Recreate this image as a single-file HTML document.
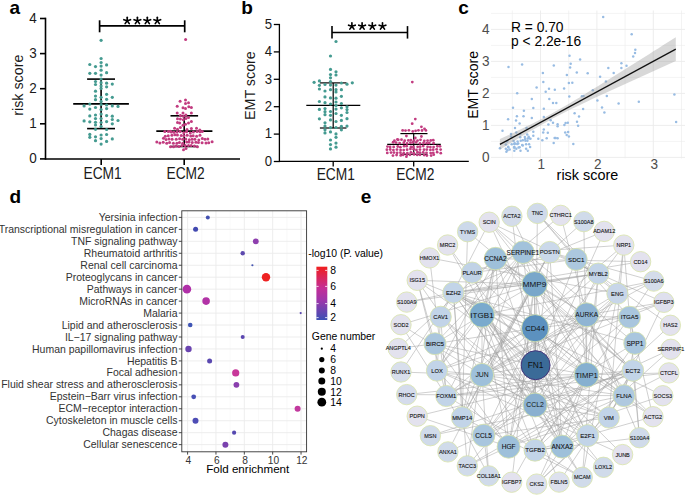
<!DOCTYPE html>
<html><head><meta charset="utf-8"><style>
html,body{margin:0;padding:0;background:#fff;}
svg{display:block;font-family:"Liberation Sans", sans-serif;}
</style></head><body>
<svg width="685" height="495" viewBox="0 0 685 495">
<rect width="685" height="495" fill="#fff"/>
<text x="9.50" y="13.60" font-size="19" text-anchor="start" fill="#000" font-weight="bold" >a</text>
<text x="241.20" y="13.60" font-size="19" text-anchor="start" fill="#000" font-weight="bold" >b</text>
<text x="458.20" y="14.00" font-size="19" text-anchor="start" fill="#000" font-weight="bold" >c</text>
<text x="9.60" y="202.80" font-size="19" text-anchor="start" fill="#000" font-weight="bold" >d</text>
<text x="360.80" y="203.40" font-size="19" text-anchor="start" fill="#000" font-weight="bold" >e</text>
<line x1="45.50" y1="17.70" x2="45.50" y2="159.80" stroke="#000" stroke-width="1.6" />
<line x1="45.50" y1="159.00" x2="240.00" y2="159.00" stroke="#000" stroke-width="1.6" />
<line x1="40.00" y1="158.90" x2="45.50" y2="158.90" stroke="#000" stroke-width="1.6" />
<text transform="translate(36.80,163.30) scale(1,1.13)" x="0" y="0" font-size="13.5" text-anchor="end" fill="#1a1a1a" font-weight="normal" >0</text>
<line x1="40.00" y1="123.80" x2="45.50" y2="123.80" stroke="#000" stroke-width="1.6" />
<text transform="translate(36.80,128.20) scale(1,1.13)" x="0" y="0" font-size="13.5" text-anchor="end" fill="#1a1a1a" font-weight="normal" >1</text>
<line x1="40.00" y1="88.70" x2="45.50" y2="88.70" stroke="#000" stroke-width="1.6" />
<text transform="translate(36.80,93.10) scale(1,1.13)" x="0" y="0" font-size="13.5" text-anchor="end" fill="#1a1a1a" font-weight="normal" >2</text>
<line x1="40.00" y1="53.60" x2="45.50" y2="53.60" stroke="#000" stroke-width="1.6" />
<text transform="translate(36.80,58.00) scale(1,1.13)" x="0" y="0" font-size="13.5" text-anchor="end" fill="#1a1a1a" font-weight="normal" >3</text>
<line x1="40.00" y1="18.50" x2="45.50" y2="18.50" stroke="#000" stroke-width="1.6" />
<text transform="translate(36.80,22.90) scale(1,1.13)" x="0" y="0" font-size="13.5" text-anchor="end" fill="#1a1a1a" font-weight="normal" >4</text>
<line x1="101.20" y1="159.00" x2="101.20" y2="165.00" stroke="#000" stroke-width="1.6" />
<text transform="translate(102.60,178.60) scale(1,1.15)" x="0" y="0" font-size="13.8" text-anchor="middle" fill="#1a1a1a" font-weight="normal" >ECM1</text>
<line x1="184.20" y1="159.00" x2="184.20" y2="165.00" stroke="#000" stroke-width="1.6" />
<text transform="translate(185.60,178.60) scale(1,1.15)" x="0" y="0" font-size="13.8" text-anchor="middle" fill="#1a1a1a" font-weight="normal" >ECM2</text>
<text transform="translate(22.7,85.2) rotate(-90) scale(1,1.06)" x="0" y="0" font-size="14.3" text-anchor="middle" fill="#1a1a1a">risk score</text>
<line x1="99.60" y1="25.90" x2="184.70" y2="25.90" stroke="#000" stroke-width="1.7" />
<line x1="99.60" y1="20.30" x2="99.60" y2="32.30" stroke="#000" stroke-width="1.7" />
<line x1="184.70" y1="20.30" x2="184.70" y2="32.30" stroke="#000" stroke-width="1.7" />
<line x1="87.10" y1="79.10" x2="115.00" y2="79.10" stroke="#000" stroke-width="1.6" />
<line x1="73.20" y1="103.90" x2="128.90" y2="103.90" stroke="#000" stroke-width="1.6" />
<line x1="87.10" y1="128.60" x2="115.00" y2="128.60" stroke="#000" stroke-width="1.6" />
<line x1="101.10" y1="79.10" x2="101.10" y2="128.60" stroke="#000" stroke-width="1.6" />
<line x1="170.50" y1="115.80" x2="198.10" y2="115.80" stroke="#000" stroke-width="1.6" />
<line x1="156.30" y1="131.10" x2="212.40" y2="131.10" stroke="#000" stroke-width="1.6" />
<line x1="170.50" y1="146.50" x2="198.10" y2="146.50" stroke="#000" stroke-width="1.6" />
<line x1="184.20" y1="115.80" x2="184.20" y2="146.50" stroke="#000" stroke-width="1.6" />
<circle cx="84.10" cy="105.90" r="1.60" fill="#459b91" stroke="none" stroke-width="0"/>
<circle cx="84.10" cy="120.90" r="1.60" fill="#459b91" stroke="none" stroke-width="0"/>
<circle cx="89.80" cy="64.50" r="1.60" fill="#459b91" stroke="none" stroke-width="0"/>
<circle cx="89.80" cy="73.30" r="1.60" fill="#459b91" stroke="none" stroke-width="0"/>
<circle cx="89.80" cy="104.10" r="1.60" fill="#459b91" stroke="none" stroke-width="0"/>
<circle cx="89.80" cy="109.10" r="1.60" fill="#459b91" stroke="none" stroke-width="0"/>
<circle cx="89.80" cy="115.90" r="1.60" fill="#459b91" stroke="none" stroke-width="0"/>
<circle cx="89.80" cy="121.80" r="1.60" fill="#459b91" stroke="none" stroke-width="0"/>
<circle cx="89.80" cy="134.40" r="1.60" fill="#459b91" stroke="none" stroke-width="0"/>
<circle cx="89.80" cy="137.30" r="1.60" fill="#459b91" stroke="none" stroke-width="0"/>
<circle cx="95.50" cy="66.60" r="1.60" fill="#459b91" stroke="none" stroke-width="0"/>
<circle cx="95.50" cy="73.30" r="1.60" fill="#459b91" stroke="none" stroke-width="0"/>
<circle cx="95.50" cy="81.50" r="1.60" fill="#459b91" stroke="none" stroke-width="0"/>
<circle cx="95.50" cy="84.50" r="1.60" fill="#459b91" stroke="none" stroke-width="0"/>
<circle cx="95.50" cy="91.20" r="1.60" fill="#459b91" stroke="none" stroke-width="0"/>
<circle cx="95.50" cy="96.10" r="1.60" fill="#459b91" stroke="none" stroke-width="0"/>
<circle cx="95.50" cy="99.70" r="1.60" fill="#459b91" stroke="none" stroke-width="0"/>
<circle cx="95.50" cy="107.50" r="1.60" fill="#459b91" stroke="none" stroke-width="0"/>
<circle cx="95.50" cy="115.00" r="1.60" fill="#459b91" stroke="none" stroke-width="0"/>
<circle cx="95.50" cy="118.60" r="1.60" fill="#459b91" stroke="none" stroke-width="0"/>
<circle cx="95.50" cy="122.30" r="1.60" fill="#459b91" stroke="none" stroke-width="0"/>
<circle cx="95.50" cy="125.00" r="1.60" fill="#459b91" stroke="none" stroke-width="0"/>
<circle cx="95.50" cy="129.30" r="1.60" fill="#459b91" stroke="none" stroke-width="0"/>
<circle cx="95.50" cy="136.80" r="1.60" fill="#459b91" stroke="none" stroke-width="0"/>
<circle cx="95.50" cy="140.70" r="1.60" fill="#459b91" stroke="none" stroke-width="0"/>
<circle cx="101.10" cy="40.30" r="1.60" fill="#459b91" stroke="none" stroke-width="0"/>
<circle cx="101.10" cy="58.50" r="1.60" fill="#459b91" stroke="none" stroke-width="0"/>
<circle cx="101.10" cy="62.50" r="1.60" fill="#459b91" stroke="none" stroke-width="0"/>
<circle cx="101.10" cy="66.10" r="1.60" fill="#459b91" stroke="none" stroke-width="0"/>
<circle cx="101.10" cy="70.20" r="1.60" fill="#459b91" stroke="none" stroke-width="0"/>
<circle cx="101.10" cy="75.10" r="1.60" fill="#459b91" stroke="none" stroke-width="0"/>
<circle cx="101.10" cy="79.00" r="1.60" fill="#459b91" stroke="none" stroke-width="0"/>
<circle cx="101.10" cy="82.70" r="1.60" fill="#459b91" stroke="none" stroke-width="0"/>
<circle cx="101.10" cy="85.90" r="1.60" fill="#459b91" stroke="none" stroke-width="0"/>
<circle cx="101.10" cy="88.50" r="1.60" fill="#459b91" stroke="none" stroke-width="0"/>
<circle cx="101.10" cy="97.30" r="1.60" fill="#459b91" stroke="none" stroke-width="0"/>
<circle cx="101.10" cy="101.40" r="1.60" fill="#459b91" stroke="none" stroke-width="0"/>
<circle cx="101.10" cy="104.50" r="1.60" fill="#459b91" stroke="none" stroke-width="0"/>
<circle cx="101.10" cy="109.50" r="1.60" fill="#459b91" stroke="none" stroke-width="0"/>
<circle cx="101.10" cy="114.10" r="1.60" fill="#459b91" stroke="none" stroke-width="0"/>
<circle cx="101.10" cy="118.60" r="1.60" fill="#459b91" stroke="none" stroke-width="0"/>
<circle cx="101.10" cy="122.50" r="1.60" fill="#459b91" stroke="none" stroke-width="0"/>
<circle cx="101.10" cy="126.40" r="1.60" fill="#459b91" stroke="none" stroke-width="0"/>
<circle cx="101.10" cy="135.00" r="1.60" fill="#459b91" stroke="none" stroke-width="0"/>
<circle cx="101.10" cy="138.60" r="1.60" fill="#459b91" stroke="none" stroke-width="0"/>
<circle cx="101.10" cy="144.10" r="1.60" fill="#459b91" stroke="none" stroke-width="0"/>
<circle cx="106.60" cy="64.90" r="1.60" fill="#459b91" stroke="none" stroke-width="0"/>
<circle cx="106.60" cy="72.70" r="1.60" fill="#459b91" stroke="none" stroke-width="0"/>
<circle cx="106.60" cy="83.20" r="1.60" fill="#459b91" stroke="none" stroke-width="0"/>
<circle cx="106.60" cy="86.80" r="1.60" fill="#459b91" stroke="none" stroke-width="0"/>
<circle cx="106.60" cy="94.30" r="1.60" fill="#459b91" stroke="none" stroke-width="0"/>
<circle cx="106.60" cy="99.30" r="1.60" fill="#459b91" stroke="none" stroke-width="0"/>
<circle cx="106.60" cy="105.00" r="1.60" fill="#459b91" stroke="none" stroke-width="0"/>
<circle cx="106.60" cy="108.60" r="1.60" fill="#459b91" stroke="none" stroke-width="0"/>
<circle cx="106.60" cy="115.60" r="1.60" fill="#459b91" stroke="none" stroke-width="0"/>
<circle cx="106.60" cy="121.60" r="1.60" fill="#459b91" stroke="none" stroke-width="0"/>
<circle cx="106.60" cy="129.50" r="1.60" fill="#459b91" stroke="none" stroke-width="0"/>
<circle cx="106.60" cy="134.50" r="1.60" fill="#459b91" stroke="none" stroke-width="0"/>
<circle cx="106.60" cy="141.40" r="1.60" fill="#459b91" stroke="none" stroke-width="0"/>
<circle cx="112.30" cy="84.10" r="1.60" fill="#459b91" stroke="none" stroke-width="0"/>
<circle cx="112.30" cy="97.30" r="1.60" fill="#459b91" stroke="none" stroke-width="0"/>
<circle cx="112.30" cy="105.90" r="1.60" fill="#459b91" stroke="none" stroke-width="0"/>
<circle cx="112.30" cy="116.20" r="1.60" fill="#459b91" stroke="none" stroke-width="0"/>
<circle cx="112.30" cy="119.50" r="1.60" fill="#459b91" stroke="none" stroke-width="0"/>
<circle cx="112.30" cy="123.80" r="1.60" fill="#459b91" stroke="none" stroke-width="0"/>
<circle cx="112.30" cy="138.90" r="1.60" fill="#459b91" stroke="none" stroke-width="0"/>
<circle cx="118.00" cy="106.40" r="1.60" fill="#459b91" stroke="none" stroke-width="0"/>
<circle cx="118.00" cy="120.50" r="1.60" fill="#459b91" stroke="none" stroke-width="0"/>
<circle cx="185.60" cy="39.40" r="1.50" fill="#c23c80" stroke="none" stroke-width="0"/>
<circle cx="180.10" cy="101.20" r="1.50" fill="#c23c80" stroke="none" stroke-width="0"/>
<circle cx="185.50" cy="100.10" r="1.50" fill="#c23c80" stroke="none" stroke-width="0"/>
<circle cx="185.50" cy="103.60" r="1.50" fill="#c23c80" stroke="none" stroke-width="0"/>
<circle cx="188.50" cy="102.70" r="1.50" fill="#c23c80" stroke="none" stroke-width="0"/>
<circle cx="177.20" cy="106.30" r="1.50" fill="#c23c80" stroke="none" stroke-width="0"/>
<circle cx="183.00" cy="107.80" r="1.50" fill="#c23c80" stroke="none" stroke-width="0"/>
<circle cx="185.50" cy="108.50" r="1.50" fill="#c23c80" stroke="none" stroke-width="0"/>
<circle cx="188.80" cy="106.70" r="1.50" fill="#c23c80" stroke="none" stroke-width="0"/>
<circle cx="191.40" cy="107.40" r="1.50" fill="#c23c80" stroke="none" stroke-width="0"/>
<circle cx="177.20" cy="112.90" r="1.50" fill="#c23c80" stroke="none" stroke-width="0"/>
<circle cx="183.00" cy="112.90" r="1.50" fill="#c23c80" stroke="none" stroke-width="0"/>
<circle cx="191.40" cy="112.90" r="1.50" fill="#c23c80" stroke="none" stroke-width="0"/>
<circle cx="180.40" cy="115.40" r="1.50" fill="#c23c80" stroke="none" stroke-width="0"/>
<circle cx="183.40" cy="116.20" r="1.50" fill="#c23c80" stroke="none" stroke-width="0"/>
<circle cx="185.90" cy="115.10" r="1.50" fill="#c23c80" stroke="none" stroke-width="0"/>
<circle cx="177.50" cy="118.70" r="1.50" fill="#c23c80" stroke="none" stroke-width="0"/>
<circle cx="180.40" cy="119.10" r="1.50" fill="#c23c80" stroke="none" stroke-width="0"/>
<circle cx="183.40" cy="119.80" r="1.50" fill="#c23c80" stroke="none" stroke-width="0"/>
<circle cx="185.90" cy="118.40" r="1.50" fill="#c23c80" stroke="none" stroke-width="0"/>
<circle cx="188.50" cy="117.60" r="1.50" fill="#c23c80" stroke="none" stroke-width="0"/>
<circle cx="177.50" cy="122.40" r="1.50" fill="#c23c80" stroke="none" stroke-width="0"/>
<circle cx="179.70" cy="123.10" r="1.50" fill="#c23c80" stroke="none" stroke-width="0"/>
<circle cx="183.00" cy="125.30" r="1.50" fill="#c23c80" stroke="none" stroke-width="0"/>
<circle cx="185.50" cy="124.20" r="1.50" fill="#c23c80" stroke="none" stroke-width="0"/>
<circle cx="188.50" cy="123.10" r="1.50" fill="#c23c80" stroke="none" stroke-width="0"/>
<circle cx="191.40" cy="121.60" r="1.50" fill="#c23c80" stroke="none" stroke-width="0"/>
<circle cx="174.60" cy="128.20" r="1.50" fill="#c23c80" stroke="none" stroke-width="0"/>
<circle cx="177.50" cy="129.30" r="1.50" fill="#c23c80" stroke="none" stroke-width="0"/>
<circle cx="191.40" cy="128.60" r="1.50" fill="#c23c80" stroke="none" stroke-width="0"/>
<circle cx="196.50" cy="128.20" r="1.50" fill="#c23c80" stroke="none" stroke-width="0"/>
<circle cx="170.40" cy="131.20" r="1.50" fill="#c23c80" stroke="none" stroke-width="0"/>
<circle cx="180.40" cy="127.40" r="1.50" fill="#c23c80" stroke="none" stroke-width="0"/>
<circle cx="187.00" cy="129.50" r="1.50" fill="#c23c80" stroke="none" stroke-width="0"/>
<circle cx="199.80" cy="130.00" r="1.50" fill="#c23c80" stroke="none" stroke-width="0"/>
<circle cx="183.50" cy="149.80" r="1.50" fill="#c23c80" stroke="none" stroke-width="0"/>
<circle cx="186.00" cy="148.60" r="1.50" fill="#c23c80" stroke="none" stroke-width="0"/>
<circle cx="164.79" cy="131.57" r="1.50" fill="#c23c80" stroke="none" stroke-width="0"/>
<circle cx="168.32" cy="131.43" r="1.50" fill="#c23c80" stroke="none" stroke-width="0"/>
<circle cx="171.33" cy="131.96" r="1.50" fill="#c23c80" stroke="none" stroke-width="0"/>
<circle cx="173.89" cy="132.21" r="1.50" fill="#c23c80" stroke="none" stroke-width="0"/>
<circle cx="177.01" cy="132.08" r="1.50" fill="#c23c80" stroke="none" stroke-width="0"/>
<circle cx="180.19" cy="131.46" r="1.50" fill="#c23c80" stroke="none" stroke-width="0"/>
<circle cx="183.76" cy="132.79" r="1.50" fill="#c23c80" stroke="none" stroke-width="0"/>
<circle cx="186.54" cy="131.70" r="1.50" fill="#c23c80" stroke="none" stroke-width="0"/>
<circle cx="190.29" cy="133.01" r="1.50" fill="#c23c80" stroke="none" stroke-width="0"/>
<circle cx="193.37" cy="132.01" r="1.50" fill="#c23c80" stroke="none" stroke-width="0"/>
<circle cx="196.99" cy="131.38" r="1.50" fill="#c23c80" stroke="none" stroke-width="0"/>
<circle cx="199.99" cy="131.82" r="1.50" fill="#c23c80" stroke="none" stroke-width="0"/>
<circle cx="202.27" cy="131.51" r="1.50" fill="#c23c80" stroke="none" stroke-width="0"/>
<circle cx="165.27" cy="136.17" r="1.50" fill="#c23c80" stroke="none" stroke-width="0"/>
<circle cx="168.23" cy="135.75" r="1.50" fill="#c23c80" stroke="none" stroke-width="0"/>
<circle cx="171.88" cy="135.37" r="1.50" fill="#c23c80" stroke="none" stroke-width="0"/>
<circle cx="174.88" cy="134.81" r="1.50" fill="#c23c80" stroke="none" stroke-width="0"/>
<circle cx="177.41" cy="135.07" r="1.50" fill="#c23c80" stroke="none" stroke-width="0"/>
<circle cx="181.26" cy="135.47" r="1.50" fill="#c23c80" stroke="none" stroke-width="0"/>
<circle cx="183.93" cy="135.75" r="1.50" fill="#c23c80" stroke="none" stroke-width="0"/>
<circle cx="187.21" cy="135.24" r="1.50" fill="#c23c80" stroke="none" stroke-width="0"/>
<circle cx="190.73" cy="135.96" r="1.50" fill="#c23c80" stroke="none" stroke-width="0"/>
<circle cx="193.17" cy="135.73" r="1.50" fill="#c23c80" stroke="none" stroke-width="0"/>
<circle cx="196.62" cy="136.28" r="1.50" fill="#c23c80" stroke="none" stroke-width="0"/>
<circle cx="199.98" cy="135.22" r="1.50" fill="#c23c80" stroke="none" stroke-width="0"/>
<circle cx="163.48" cy="138.31" r="1.50" fill="#c23c80" stroke="none" stroke-width="0"/>
<circle cx="166.05" cy="139.46" r="1.50" fill="#c23c80" stroke="none" stroke-width="0"/>
<circle cx="168.98" cy="138.98" r="1.50" fill="#c23c80" stroke="none" stroke-width="0"/>
<circle cx="172.10" cy="139.30" r="1.50" fill="#c23c80" stroke="none" stroke-width="0"/>
<circle cx="176.22" cy="139.13" r="1.50" fill="#c23c80" stroke="none" stroke-width="0"/>
<circle cx="179.60" cy="138.66" r="1.50" fill="#c23c80" stroke="none" stroke-width="0"/>
<circle cx="182.63" cy="139.17" r="1.50" fill="#c23c80" stroke="none" stroke-width="0"/>
<circle cx="185.75" cy="138.92" r="1.50" fill="#c23c80" stroke="none" stroke-width="0"/>
<circle cx="189.31" cy="139.80" r="1.50" fill="#c23c80" stroke="none" stroke-width="0"/>
<circle cx="192.12" cy="139.30" r="1.50" fill="#c23c80" stroke="none" stroke-width="0"/>
<circle cx="194.87" cy="139.36" r="1.50" fill="#c23c80" stroke="none" stroke-width="0"/>
<circle cx="198.83" cy="139.89" r="1.50" fill="#c23c80" stroke="none" stroke-width="0"/>
<circle cx="202.29" cy="138.61" r="1.50" fill="#c23c80" stroke="none" stroke-width="0"/>
<circle cx="205.01" cy="139.30" r="1.50" fill="#c23c80" stroke="none" stroke-width="0"/>
<circle cx="207.83" cy="138.93" r="1.50" fill="#c23c80" stroke="none" stroke-width="0"/>
<circle cx="156.80" cy="141.91" r="1.50" fill="#c23c80" stroke="none" stroke-width="0"/>
<circle cx="159.89" cy="143.08" r="1.50" fill="#c23c80" stroke="none" stroke-width="0"/>
<circle cx="163.19" cy="142.15" r="1.50" fill="#c23c80" stroke="none" stroke-width="0"/>
<circle cx="166.72" cy="143.27" r="1.50" fill="#c23c80" stroke="none" stroke-width="0"/>
<circle cx="169.57" cy="142.51" r="1.50" fill="#c23c80" stroke="none" stroke-width="0"/>
<circle cx="173.35" cy="143.29" r="1.50" fill="#c23c80" stroke="none" stroke-width="0"/>
<circle cx="176.89" cy="143.26" r="1.50" fill="#c23c80" stroke="none" stroke-width="0"/>
<circle cx="179.46" cy="142.45" r="1.50" fill="#c23c80" stroke="none" stroke-width="0"/>
<circle cx="182.77" cy="143.29" r="1.50" fill="#c23c80" stroke="none" stroke-width="0"/>
<circle cx="186.71" cy="141.97" r="1.50" fill="#c23c80" stroke="none" stroke-width="0"/>
<circle cx="188.99" cy="142.12" r="1.50" fill="#c23c80" stroke="none" stroke-width="0"/>
<circle cx="192.27" cy="142.57" r="1.50" fill="#c23c80" stroke="none" stroke-width="0"/>
<circle cx="195.92" cy="142.17" r="1.50" fill="#c23c80" stroke="none" stroke-width="0"/>
<circle cx="198.43" cy="142.45" r="1.50" fill="#c23c80" stroke="none" stroke-width="0"/>
<circle cx="202.09" cy="142.72" r="1.50" fill="#c23c80" stroke="none" stroke-width="0"/>
<circle cx="206.01" cy="142.94" r="1.50" fill="#c23c80" stroke="none" stroke-width="0"/>
<circle cx="208.70" cy="142.81" r="1.50" fill="#c23c80" stroke="none" stroke-width="0"/>
<circle cx="212.11" cy="141.80" r="1.50" fill="#c23c80" stroke="none" stroke-width="0"/>
<circle cx="170.48" cy="146.70" r="1.50" fill="#c23c80" stroke="none" stroke-width="0"/>
<circle cx="173.56" cy="146.74" r="1.50" fill="#c23c80" stroke="none" stroke-width="0"/>
<circle cx="176.09" cy="146.02" r="1.50" fill="#c23c80" stroke="none" stroke-width="0"/>
<circle cx="178.86" cy="146.44" r="1.50" fill="#c23c80" stroke="none" stroke-width="0"/>
<circle cx="181.92" cy="145.42" r="1.50" fill="#c23c80" stroke="none" stroke-width="0"/>
<circle cx="185.21" cy="145.59" r="1.50" fill="#c23c80" stroke="none" stroke-width="0"/>
<circle cx="188.47" cy="145.39" r="1.50" fill="#c23c80" stroke="none" stroke-width="0"/>
<circle cx="191.18" cy="145.57" r="1.50" fill="#c23c80" stroke="none" stroke-width="0"/>
<circle cx="194.41" cy="145.95" r="1.50" fill="#c23c80" stroke="none" stroke-width="0"/>
<circle cx="197.43" cy="146.87" r="1.50" fill="#c23c80" stroke="none" stroke-width="0"/>
<line x1="127.20" y1="20.80" x2="127.20" y2="17.30" stroke="#000" stroke-width="1.65" stroke-linecap="round"/>
<line x1="127.20" y1="20.80" x2="130.53" y2="19.72" stroke="#000" stroke-width="1.65" stroke-linecap="round"/>
<line x1="127.20" y1="20.80" x2="129.26" y2="23.63" stroke="#000" stroke-width="1.65" stroke-linecap="round"/>
<line x1="127.20" y1="20.80" x2="125.14" y2="23.63" stroke="#000" stroke-width="1.65" stroke-linecap="round"/>
<line x1="127.20" y1="20.80" x2="123.87" y2="19.72" stroke="#000" stroke-width="1.65" stroke-linecap="round"/>
<line x1="137.40" y1="20.80" x2="137.40" y2="17.30" stroke="#000" stroke-width="1.65" stroke-linecap="round"/>
<line x1="137.40" y1="20.80" x2="140.73" y2="19.72" stroke="#000" stroke-width="1.65" stroke-linecap="round"/>
<line x1="137.40" y1="20.80" x2="139.46" y2="23.63" stroke="#000" stroke-width="1.65" stroke-linecap="round"/>
<line x1="137.40" y1="20.80" x2="135.34" y2="23.63" stroke="#000" stroke-width="1.65" stroke-linecap="round"/>
<line x1="137.40" y1="20.80" x2="134.07" y2="19.72" stroke="#000" stroke-width="1.65" stroke-linecap="round"/>
<line x1="147.30" y1="20.80" x2="147.30" y2="17.30" stroke="#000" stroke-width="1.65" stroke-linecap="round"/>
<line x1="147.30" y1="20.80" x2="150.63" y2="19.72" stroke="#000" stroke-width="1.65" stroke-linecap="round"/>
<line x1="147.30" y1="20.80" x2="149.36" y2="23.63" stroke="#000" stroke-width="1.65" stroke-linecap="round"/>
<line x1="147.30" y1="20.80" x2="145.24" y2="23.63" stroke="#000" stroke-width="1.65" stroke-linecap="round"/>
<line x1="147.30" y1="20.80" x2="143.97" y2="19.72" stroke="#000" stroke-width="1.65" stroke-linecap="round"/>
<line x1="157.30" y1="20.80" x2="157.30" y2="17.30" stroke="#000" stroke-width="1.65" stroke-linecap="round"/>
<line x1="157.30" y1="20.80" x2="160.63" y2="19.72" stroke="#000" stroke-width="1.65" stroke-linecap="round"/>
<line x1="157.30" y1="20.80" x2="159.36" y2="23.63" stroke="#000" stroke-width="1.65" stroke-linecap="round"/>
<line x1="157.30" y1="20.80" x2="155.24" y2="23.63" stroke="#000" stroke-width="1.65" stroke-linecap="round"/>
<line x1="157.30" y1="20.80" x2="153.97" y2="19.72" stroke="#000" stroke-width="1.65" stroke-linecap="round"/>
<line x1="279.40" y1="23.90" x2="279.40" y2="162.10" stroke="#000" stroke-width="1.3" />
<line x1="279.40" y1="161.40" x2="468.80" y2="161.40" stroke="#000" stroke-width="1.3" />
<line x1="273.80" y1="161.50" x2="279.40" y2="161.50" stroke="#000" stroke-width="1.3" />
<text transform="translate(272.20,165.70) scale(1,1.13)" x="0" y="0" font-size="13.2" text-anchor="end" fill="#1a1a1a" font-weight="normal" >0</text>
<line x1="273.80" y1="134.10" x2="279.40" y2="134.10" stroke="#000" stroke-width="1.3" />
<text transform="translate(272.20,138.30) scale(1,1.13)" x="0" y="0" font-size="13.2" text-anchor="end" fill="#1a1a1a" font-weight="normal" >1</text>
<line x1="273.80" y1="106.70" x2="279.40" y2="106.70" stroke="#000" stroke-width="1.3" />
<text transform="translate(272.20,110.90) scale(1,1.13)" x="0" y="0" font-size="13.2" text-anchor="end" fill="#1a1a1a" font-weight="normal" >2</text>
<line x1="273.80" y1="79.30" x2="279.40" y2="79.30" stroke="#000" stroke-width="1.3" />
<text transform="translate(272.20,83.50) scale(1,1.13)" x="0" y="0" font-size="13.2" text-anchor="end" fill="#1a1a1a" font-weight="normal" >3</text>
<line x1="273.80" y1="51.90" x2="279.40" y2="51.90" stroke="#000" stroke-width="1.3" />
<text transform="translate(272.20,56.10) scale(1,1.13)" x="0" y="0" font-size="13.2" text-anchor="end" fill="#1a1a1a" font-weight="normal" >4</text>
<line x1="273.80" y1="24.50" x2="279.40" y2="24.50" stroke="#000" stroke-width="1.3" />
<text transform="translate(272.20,28.70) scale(1,1.13)" x="0" y="0" font-size="13.2" text-anchor="end" fill="#1a1a1a" font-weight="normal" >5</text>
<line x1="333.20" y1="161.40" x2="333.20" y2="166.50" stroke="#000" stroke-width="1.3" />
<text transform="translate(335.80,179.80) scale(1,1.15)" x="0" y="0" font-size="13.8" text-anchor="middle" fill="#1a1a1a" font-weight="normal" >ECM1</text>
<line x1="413.70" y1="161.40" x2="413.70" y2="166.50" stroke="#000" stroke-width="1.3" />
<text transform="translate(415.30,179.80) scale(1,1.15)" x="0" y="0" font-size="13.8" text-anchor="middle" fill="#1a1a1a" font-weight="normal" >ECM2</text>
<text transform="translate(255.2,85.6) rotate(-90) scale(1,1.06)" x="0" y="0" font-size="14.3" text-anchor="middle" fill="#1a1a1a">EMT score</text>
<line x1="332.00" y1="32.50" x2="407.50" y2="32.50" stroke="#000" stroke-width="1.6" />
<line x1="332.00" y1="26.10" x2="332.00" y2="38.60" stroke="#000" stroke-width="1.6" />
<line x1="407.50" y1="26.10" x2="407.50" y2="38.60" stroke="#000" stroke-width="1.6" />
<line x1="351.90" y1="26.30" x2="351.90" y2="22.80" stroke="#000" stroke-width="1.65" stroke-linecap="round"/>
<line x1="351.90" y1="26.30" x2="355.23" y2="25.22" stroke="#000" stroke-width="1.65" stroke-linecap="round"/>
<line x1="351.90" y1="26.30" x2="353.96" y2="29.13" stroke="#000" stroke-width="1.65" stroke-linecap="round"/>
<line x1="351.90" y1="26.30" x2="349.84" y2="29.13" stroke="#000" stroke-width="1.65" stroke-linecap="round"/>
<line x1="351.90" y1="26.30" x2="348.57" y2="25.22" stroke="#000" stroke-width="1.65" stroke-linecap="round"/>
<line x1="362.10" y1="26.30" x2="362.10" y2="22.80" stroke="#000" stroke-width="1.65" stroke-linecap="round"/>
<line x1="362.10" y1="26.30" x2="365.43" y2="25.22" stroke="#000" stroke-width="1.65" stroke-linecap="round"/>
<line x1="362.10" y1="26.30" x2="364.16" y2="29.13" stroke="#000" stroke-width="1.65" stroke-linecap="round"/>
<line x1="362.10" y1="26.30" x2="360.04" y2="29.13" stroke="#000" stroke-width="1.65" stroke-linecap="round"/>
<line x1="362.10" y1="26.30" x2="358.77" y2="25.22" stroke="#000" stroke-width="1.65" stroke-linecap="round"/>
<line x1="372.30" y1="26.30" x2="372.30" y2="22.80" stroke="#000" stroke-width="1.65" stroke-linecap="round"/>
<line x1="372.30" y1="26.30" x2="375.63" y2="25.22" stroke="#000" stroke-width="1.65" stroke-linecap="round"/>
<line x1="372.30" y1="26.30" x2="374.36" y2="29.13" stroke="#000" stroke-width="1.65" stroke-linecap="round"/>
<line x1="372.30" y1="26.30" x2="370.24" y2="29.13" stroke="#000" stroke-width="1.65" stroke-linecap="round"/>
<line x1="372.30" y1="26.30" x2="368.97" y2="25.22" stroke="#000" stroke-width="1.65" stroke-linecap="round"/>
<line x1="382.50" y1="26.30" x2="382.50" y2="22.80" stroke="#000" stroke-width="1.65" stroke-linecap="round"/>
<line x1="382.50" y1="26.30" x2="385.83" y2="25.22" stroke="#000" stroke-width="1.65" stroke-linecap="round"/>
<line x1="382.50" y1="26.30" x2="384.56" y2="29.13" stroke="#000" stroke-width="1.65" stroke-linecap="round"/>
<line x1="382.50" y1="26.30" x2="380.44" y2="29.13" stroke="#000" stroke-width="1.65" stroke-linecap="round"/>
<line x1="382.50" y1="26.30" x2="379.17" y2="25.22" stroke="#000" stroke-width="1.65" stroke-linecap="round"/>
<line x1="319.90" y1="82.90" x2="346.50" y2="82.90" stroke="#000" stroke-width="1.2" />
<line x1="306.30" y1="105.30" x2="360.30" y2="105.30" stroke="#000" stroke-width="1.2" />
<line x1="319.90" y1="128.00" x2="346.50" y2="128.00" stroke="#000" stroke-width="1.2" />
<line x1="333.20" y1="82.90" x2="333.20" y2="128.00" stroke="#000" stroke-width="1.2" />
<line x1="400.40" y1="133.60" x2="427.50" y2="133.60" stroke="#000" stroke-width="1.2" />
<line x1="387.20" y1="144.30" x2="440.80" y2="144.30" stroke="#000" stroke-width="1.2" />
<line x1="400.40" y1="154.30" x2="427.50" y2="154.30" stroke="#000" stroke-width="1.2" />
<line x1="413.70" y1="133.60" x2="413.70" y2="154.30" stroke="#000" stroke-width="1.2" />
<circle cx="314.10" cy="82.30" r="1.60" fill="#459b91" stroke="none" stroke-width="0"/>
<circle cx="319.40" cy="80.90" r="1.60" fill="#459b91" stroke="none" stroke-width="0"/>
<circle cx="319.40" cy="85.30" r="1.60" fill="#459b91" stroke="none" stroke-width="0"/>
<circle cx="319.40" cy="89.00" r="1.60" fill="#459b91" stroke="none" stroke-width="0"/>
<circle cx="319.40" cy="101.50" r="1.60" fill="#459b91" stroke="none" stroke-width="0"/>
<circle cx="319.40" cy="109.40" r="1.60" fill="#459b91" stroke="none" stroke-width="0"/>
<circle cx="319.40" cy="118.80" r="1.60" fill="#459b91" stroke="none" stroke-width="0"/>
<circle cx="325.00" cy="84.50" r="1.60" fill="#459b91" stroke="none" stroke-width="0"/>
<circle cx="325.00" cy="91.00" r="1.60" fill="#459b91" stroke="none" stroke-width="0"/>
<circle cx="325.00" cy="96.90" r="1.60" fill="#459b91" stroke="none" stroke-width="0"/>
<circle cx="325.00" cy="102.70" r="1.60" fill="#459b91" stroke="none" stroke-width="0"/>
<circle cx="325.00" cy="108.60" r="1.60" fill="#459b91" stroke="none" stroke-width="0"/>
<circle cx="325.00" cy="111.70" r="1.60" fill="#459b91" stroke="none" stroke-width="0"/>
<circle cx="325.00" cy="114.70" r="1.60" fill="#459b91" stroke="none" stroke-width="0"/>
<circle cx="325.00" cy="122.80" r="1.60" fill="#459b91" stroke="none" stroke-width="0"/>
<circle cx="325.00" cy="126.10" r="1.60" fill="#459b91" stroke="none" stroke-width="0"/>
<circle cx="325.00" cy="129.80" r="1.60" fill="#459b91" stroke="none" stroke-width="0"/>
<circle cx="325.00" cy="132.90" r="1.60" fill="#459b91" stroke="none" stroke-width="0"/>
<circle cx="330.50" cy="56.00" r="1.60" fill="#459b91" stroke="none" stroke-width="0"/>
<circle cx="330.50" cy="69.40" r="1.60" fill="#459b91" stroke="none" stroke-width="0"/>
<circle cx="330.50" cy="74.60" r="1.60" fill="#459b91" stroke="none" stroke-width="0"/>
<circle cx="330.50" cy="77.80" r="1.60" fill="#459b91" stroke="none" stroke-width="0"/>
<circle cx="330.50" cy="81.50" r="1.60" fill="#459b91" stroke="none" stroke-width="0"/>
<circle cx="330.50" cy="85.10" r="1.60" fill="#459b91" stroke="none" stroke-width="0"/>
<circle cx="330.50" cy="89.70" r="1.60" fill="#459b91" stroke="none" stroke-width="0"/>
<circle cx="330.50" cy="97.90" r="1.60" fill="#459b91" stroke="none" stroke-width="0"/>
<circle cx="330.50" cy="104.00" r="1.60" fill="#459b91" stroke="none" stroke-width="0"/>
<circle cx="330.50" cy="111.50" r="1.60" fill="#459b91" stroke="none" stroke-width="0"/>
<circle cx="330.50" cy="115.30" r="1.60" fill="#459b91" stroke="none" stroke-width="0"/>
<circle cx="330.50" cy="119.90" r="1.60" fill="#459b91" stroke="none" stroke-width="0"/>
<circle cx="330.50" cy="127.70" r="1.60" fill="#459b91" stroke="none" stroke-width="0"/>
<circle cx="330.50" cy="131.90" r="1.60" fill="#459b91" stroke="none" stroke-width="0"/>
<circle cx="330.50" cy="140.00" r="1.60" fill="#459b91" stroke="none" stroke-width="0"/>
<circle cx="330.50" cy="144.60" r="1.60" fill="#459b91" stroke="none" stroke-width="0"/>
<circle cx="330.50" cy="148.90" r="1.60" fill="#459b91" stroke="none" stroke-width="0"/>
<circle cx="336.00" cy="41.50" r="1.60" fill="#459b91" stroke="none" stroke-width="0"/>
<circle cx="336.00" cy="71.80" r="1.60" fill="#459b91" stroke="none" stroke-width="0"/>
<circle cx="336.00" cy="75.00" r="1.60" fill="#459b91" stroke="none" stroke-width="0"/>
<circle cx="336.00" cy="85.10" r="1.60" fill="#459b91" stroke="none" stroke-width="0"/>
<circle cx="336.00" cy="89.70" r="1.60" fill="#459b91" stroke="none" stroke-width="0"/>
<circle cx="336.00" cy="92.00" r="1.60" fill="#459b91" stroke="none" stroke-width="0"/>
<circle cx="336.00" cy="98.20" r="1.60" fill="#459b91" stroke="none" stroke-width="0"/>
<circle cx="336.00" cy="102.00" r="1.60" fill="#459b91" stroke="none" stroke-width="0"/>
<circle cx="336.00" cy="105.50" r="1.60" fill="#459b91" stroke="none" stroke-width="0"/>
<circle cx="336.00" cy="109.10" r="1.60" fill="#459b91" stroke="none" stroke-width="0"/>
<circle cx="336.00" cy="113.50" r="1.60" fill="#459b91" stroke="none" stroke-width="0"/>
<circle cx="336.00" cy="121.50" r="1.60" fill="#459b91" stroke="none" stroke-width="0"/>
<circle cx="336.00" cy="127.50" r="1.60" fill="#459b91" stroke="none" stroke-width="0"/>
<circle cx="336.00" cy="133.90" r="1.60" fill="#459b91" stroke="none" stroke-width="0"/>
<circle cx="336.00" cy="137.30" r="1.60" fill="#459b91" stroke="none" stroke-width="0"/>
<circle cx="336.00" cy="143.10" r="1.60" fill="#459b91" stroke="none" stroke-width="0"/>
<circle cx="336.00" cy="147.20" r="1.60" fill="#459b91" stroke="none" stroke-width="0"/>
<circle cx="341.40" cy="83.00" r="1.60" fill="#459b91" stroke="none" stroke-width="0"/>
<circle cx="341.40" cy="89.70" r="1.60" fill="#459b91" stroke="none" stroke-width="0"/>
<circle cx="341.40" cy="96.30" r="1.60" fill="#459b91" stroke="none" stroke-width="0"/>
<circle cx="341.40" cy="103.50" r="1.60" fill="#459b91" stroke="none" stroke-width="0"/>
<circle cx="341.40" cy="107.80" r="1.60" fill="#459b91" stroke="none" stroke-width="0"/>
<circle cx="341.40" cy="115.30" r="1.60" fill="#459b91" stroke="none" stroke-width="0"/>
<circle cx="341.40" cy="120.40" r="1.60" fill="#459b91" stroke="none" stroke-width="0"/>
<circle cx="341.40" cy="126.30" r="1.60" fill="#459b91" stroke="none" stroke-width="0"/>
<circle cx="341.40" cy="129.80" r="1.60" fill="#459b91" stroke="none" stroke-width="0"/>
<circle cx="347.00" cy="84.20" r="1.60" fill="#459b91" stroke="none" stroke-width="0"/>
<circle cx="347.00" cy="106.80" r="1.60" fill="#459b91" stroke="none" stroke-width="0"/>
<circle cx="347.00" cy="109.60" r="1.60" fill="#459b91" stroke="none" stroke-width="0"/>
<circle cx="347.00" cy="112.50" r="1.60" fill="#459b91" stroke="none" stroke-width="0"/>
<circle cx="347.00" cy="118.70" r="1.60" fill="#459b91" stroke="none" stroke-width="0"/>
<circle cx="347.00" cy="126.10" r="1.60" fill="#459b91" stroke="none" stroke-width="0"/>
<circle cx="352.30" cy="82.80" r="1.60" fill="#459b91" stroke="none" stroke-width="0"/>
<circle cx="412.30" cy="82.10" r="1.40" fill="#c23c80" stroke="none" stroke-width="0"/>
<circle cx="415.30" cy="119.10" r="1.40" fill="#c23c80" stroke="none" stroke-width="0"/>
<circle cx="412.20" cy="123.70" r="1.40" fill="#c23c80" stroke="none" stroke-width="0"/>
<circle cx="421.40" cy="126.80" r="1.40" fill="#c23c80" stroke="none" stroke-width="0"/>
<circle cx="424.50" cy="128.80" r="1.40" fill="#c23c80" stroke="none" stroke-width="0"/>
<circle cx="406.40" cy="136.00" r="1.40" fill="#c23c80" stroke="none" stroke-width="0"/>
<circle cx="421.40" cy="136.50" r="1.40" fill="#c23c80" stroke="none" stroke-width="0"/>
<circle cx="415.30" cy="138.00" r="1.40" fill="#c23c80" stroke="none" stroke-width="0"/>
<circle cx="397.40" cy="139.50" r="1.40" fill="#c23c80" stroke="none" stroke-width="0"/>
<circle cx="406.40" cy="156.70" r="1.40" fill="#c23c80" stroke="none" stroke-width="0"/>
<circle cx="402.64" cy="130.38" r="1.40" fill="#c23c80" stroke="none" stroke-width="0"/>
<circle cx="405.49" cy="130.62" r="1.40" fill="#c23c80" stroke="none" stroke-width="0"/>
<circle cx="408.91" cy="130.35" r="1.40" fill="#c23c80" stroke="none" stroke-width="0"/>
<circle cx="412.78" cy="131.39" r="1.40" fill="#c23c80" stroke="none" stroke-width="0"/>
<circle cx="415.60" cy="130.78" r="1.40" fill="#c23c80" stroke="none" stroke-width="0"/>
<circle cx="418.43" cy="130.32" r="1.40" fill="#c23c80" stroke="none" stroke-width="0"/>
<circle cx="422.03" cy="130.52" r="1.40" fill="#c23c80" stroke="none" stroke-width="0"/>
<circle cx="425.89" cy="130.39" r="1.40" fill="#c23c80" stroke="none" stroke-width="0"/>
<circle cx="394.43" cy="140.74" r="1.40" fill="#c23c80" stroke="none" stroke-width="0"/>
<circle cx="398.25" cy="139.78" r="1.40" fill="#c23c80" stroke="none" stroke-width="0"/>
<circle cx="401.49" cy="139.63" r="1.40" fill="#c23c80" stroke="none" stroke-width="0"/>
<circle cx="404.68" cy="140.77" r="1.40" fill="#c23c80" stroke="none" stroke-width="0"/>
<circle cx="408.30" cy="140.44" r="1.40" fill="#c23c80" stroke="none" stroke-width="0"/>
<circle cx="410.80" cy="140.04" r="1.40" fill="#c23c80" stroke="none" stroke-width="0"/>
<circle cx="413.90" cy="140.53" r="1.40" fill="#c23c80" stroke="none" stroke-width="0"/>
<circle cx="417.56" cy="140.53" r="1.40" fill="#c23c80" stroke="none" stroke-width="0"/>
<circle cx="420.53" cy="139.87" r="1.40" fill="#c23c80" stroke="none" stroke-width="0"/>
<circle cx="424.32" cy="140.78" r="1.40" fill="#c23c80" stroke="none" stroke-width="0"/>
<circle cx="427.59" cy="140.57" r="1.40" fill="#c23c80" stroke="none" stroke-width="0"/>
<circle cx="430.77" cy="140.49" r="1.40" fill="#c23c80" stroke="none" stroke-width="0"/>
<circle cx="433.27" cy="140.22" r="1.40" fill="#c23c80" stroke="none" stroke-width="0"/>
<circle cx="393.13" cy="142.23" r="1.40" fill="#c23c80" stroke="none" stroke-width="0"/>
<circle cx="396.05" cy="142.54" r="1.40" fill="#c23c80" stroke="none" stroke-width="0"/>
<circle cx="399.64" cy="143.03" r="1.40" fill="#c23c80" stroke="none" stroke-width="0"/>
<circle cx="403.80" cy="142.74" r="1.40" fill="#c23c80" stroke="none" stroke-width="0"/>
<circle cx="407.09" cy="143.39" r="1.40" fill="#c23c80" stroke="none" stroke-width="0"/>
<circle cx="410.43" cy="142.64" r="1.40" fill="#c23c80" stroke="none" stroke-width="0"/>
<circle cx="412.86" cy="142.47" r="1.40" fill="#c23c80" stroke="none" stroke-width="0"/>
<circle cx="416.15" cy="142.45" r="1.40" fill="#c23c80" stroke="none" stroke-width="0"/>
<circle cx="419.98" cy="143.28" r="1.40" fill="#c23c80" stroke="none" stroke-width="0"/>
<circle cx="423.56" cy="142.78" r="1.40" fill="#c23c80" stroke="none" stroke-width="0"/>
<circle cx="426.65" cy="143.16" r="1.40" fill="#c23c80" stroke="none" stroke-width="0"/>
<circle cx="429.29" cy="142.99" r="1.40" fill="#c23c80" stroke="none" stroke-width="0"/>
<circle cx="433.59" cy="143.14" r="1.40" fill="#c23c80" stroke="none" stroke-width="0"/>
<circle cx="387.50" cy="146.57" r="1.40" fill="#c23c80" stroke="none" stroke-width="0"/>
<circle cx="390.13" cy="146.95" r="1.40" fill="#c23c80" stroke="none" stroke-width="0"/>
<circle cx="393.64" cy="146.96" r="1.40" fill="#c23c80" stroke="none" stroke-width="0"/>
<circle cx="397.72" cy="146.48" r="1.40" fill="#c23c80" stroke="none" stroke-width="0"/>
<circle cx="400.36" cy="147.14" r="1.40" fill="#c23c80" stroke="none" stroke-width="0"/>
<circle cx="404.06" cy="146.20" r="1.40" fill="#c23c80" stroke="none" stroke-width="0"/>
<circle cx="406.66" cy="146.18" r="1.40" fill="#c23c80" stroke="none" stroke-width="0"/>
<circle cx="410.92" cy="146.97" r="1.40" fill="#c23c80" stroke="none" stroke-width="0"/>
<circle cx="413.33" cy="146.99" r="1.40" fill="#c23c80" stroke="none" stroke-width="0"/>
<circle cx="417.65" cy="146.79" r="1.40" fill="#c23c80" stroke="none" stroke-width="0"/>
<circle cx="420.21" cy="146.66" r="1.40" fill="#c23c80" stroke="none" stroke-width="0"/>
<circle cx="423.26" cy="146.02" r="1.40" fill="#c23c80" stroke="none" stroke-width="0"/>
<circle cx="427.59" cy="146.78" r="1.40" fill="#c23c80" stroke="none" stroke-width="0"/>
<circle cx="430.38" cy="147.12" r="1.40" fill="#c23c80" stroke="none" stroke-width="0"/>
<circle cx="433.58" cy="147.05" r="1.40" fill="#c23c80" stroke="none" stroke-width="0"/>
<circle cx="437.37" cy="146.25" r="1.40" fill="#c23c80" stroke="none" stroke-width="0"/>
<circle cx="440.00" cy="146.35" r="1.40" fill="#c23c80" stroke="none" stroke-width="0"/>
<circle cx="386.89" cy="149.70" r="1.40" fill="#c23c80" stroke="none" stroke-width="0"/>
<circle cx="390.23" cy="149.50" r="1.40" fill="#c23c80" stroke="none" stroke-width="0"/>
<circle cx="393.39" cy="150.09" r="1.40" fill="#c23c80" stroke="none" stroke-width="0"/>
<circle cx="396.98" cy="149.55" r="1.40" fill="#c23c80" stroke="none" stroke-width="0"/>
<circle cx="400.58" cy="150.09" r="1.40" fill="#c23c80" stroke="none" stroke-width="0"/>
<circle cx="403.70" cy="150.10" r="1.40" fill="#c23c80" stroke="none" stroke-width="0"/>
<circle cx="407.11" cy="149.64" r="1.40" fill="#c23c80" stroke="none" stroke-width="0"/>
<circle cx="410.46" cy="149.02" r="1.40" fill="#c23c80" stroke="none" stroke-width="0"/>
<circle cx="413.68" cy="149.22" r="1.40" fill="#c23c80" stroke="none" stroke-width="0"/>
<circle cx="416.47" cy="149.96" r="1.40" fill="#c23c80" stroke="none" stroke-width="0"/>
<circle cx="419.99" cy="149.57" r="1.40" fill="#c23c80" stroke="none" stroke-width="0"/>
<circle cx="423.98" cy="149.67" r="1.40" fill="#c23c80" stroke="none" stroke-width="0"/>
<circle cx="426.82" cy="149.62" r="1.40" fill="#c23c80" stroke="none" stroke-width="0"/>
<circle cx="430.41" cy="149.94" r="1.40" fill="#c23c80" stroke="none" stroke-width="0"/>
<circle cx="433.19" cy="149.67" r="1.40" fill="#c23c80" stroke="none" stroke-width="0"/>
<circle cx="436.68" cy="149.33" r="1.40" fill="#c23c80" stroke="none" stroke-width="0"/>
<circle cx="440.63" cy="149.61" r="1.40" fill="#c23c80" stroke="none" stroke-width="0"/>
<circle cx="387.27" cy="152.91" r="1.40" fill="#c23c80" stroke="none" stroke-width="0"/>
<circle cx="391.01" cy="152.53" r="1.40" fill="#c23c80" stroke="none" stroke-width="0"/>
<circle cx="393.97" cy="152.61" r="1.40" fill="#c23c80" stroke="none" stroke-width="0"/>
<circle cx="397.17" cy="152.83" r="1.40" fill="#c23c80" stroke="none" stroke-width="0"/>
<circle cx="400.42" cy="152.64" r="1.40" fill="#c23c80" stroke="none" stroke-width="0"/>
<circle cx="403.77" cy="153.13" r="1.40" fill="#c23c80" stroke="none" stroke-width="0"/>
<circle cx="407.35" cy="153.05" r="1.40" fill="#c23c80" stroke="none" stroke-width="0"/>
<circle cx="410.96" cy="152.31" r="1.40" fill="#c23c80" stroke="none" stroke-width="0"/>
<circle cx="413.82" cy="153.13" r="1.40" fill="#c23c80" stroke="none" stroke-width="0"/>
<circle cx="417.48" cy="152.16" r="1.40" fill="#c23c80" stroke="none" stroke-width="0"/>
<circle cx="419.93" cy="152.53" r="1.40" fill="#c23c80" stroke="none" stroke-width="0"/>
<circle cx="423.19" cy="152.29" r="1.40" fill="#c23c80" stroke="none" stroke-width="0"/>
<circle cx="426.51" cy="152.80" r="1.40" fill="#c23c80" stroke="none" stroke-width="0"/>
<circle cx="430.68" cy="153.08" r="1.40" fill="#c23c80" stroke="none" stroke-width="0"/>
<circle cx="433.25" cy="152.86" r="1.40" fill="#c23c80" stroke="none" stroke-width="0"/>
<circle cx="437.17" cy="152.17" r="1.40" fill="#c23c80" stroke="none" stroke-width="0"/>
<circle cx="440.76" cy="153.16" r="1.40" fill="#c23c80" stroke="none" stroke-width="0"/>
<circle cx="392.96" cy="155.54" r="1.40" fill="#c23c80" stroke="none" stroke-width="0"/>
<circle cx="396.59" cy="154.98" r="1.40" fill="#c23c80" stroke="none" stroke-width="0"/>
<circle cx="400.70" cy="155.40" r="1.40" fill="#c23c80" stroke="none" stroke-width="0"/>
<circle cx="403.12" cy="154.92" r="1.40" fill="#c23c80" stroke="none" stroke-width="0"/>
<circle cx="406.95" cy="154.81" r="1.40" fill="#c23c80" stroke="none" stroke-width="0"/>
<circle cx="409.98" cy="154.78" r="1.40" fill="#c23c80" stroke="none" stroke-width="0"/>
<circle cx="414.02" cy="154.42" r="1.40" fill="#c23c80" stroke="none" stroke-width="0"/>
<circle cx="417.22" cy="154.93" r="1.40" fill="#c23c80" stroke="none" stroke-width="0"/>
<circle cx="419.99" cy="154.80" r="1.40" fill="#c23c80" stroke="none" stroke-width="0"/>
<circle cx="424.12" cy="155.01" r="1.40" fill="#c23c80" stroke="none" stroke-width="0"/>
<circle cx="426.86" cy="155.58" r="1.40" fill="#c23c80" stroke="none" stroke-width="0"/>
<circle cx="431.14" cy="155.57" r="1.40" fill="#c23c80" stroke="none" stroke-width="0"/>
<circle cx="433.73" cy="154.72" r="1.40" fill="#c23c80" stroke="none" stroke-width="0"/>
<line x1="512.30" y1="10.50" x2="512.30" y2="158.50" stroke="#ebebeb" stroke-width="0.6" />
<line x1="540.50" y1="10.50" x2="540.50" y2="158.50" stroke="#ebebeb" stroke-width="0.9" />
<line x1="568.70" y1="10.50" x2="568.70" y2="158.50" stroke="#ebebeb" stroke-width="0.6" />
<line x1="596.90" y1="10.50" x2="596.90" y2="158.50" stroke="#ebebeb" stroke-width="0.9" />
<line x1="625.10" y1="10.50" x2="625.10" y2="158.50" stroke="#ebebeb" stroke-width="0.6" />
<line x1="653.30" y1="10.50" x2="653.30" y2="158.50" stroke="#ebebeb" stroke-width="0.9" />
<line x1="681.50" y1="10.50" x2="681.50" y2="158.50" stroke="#ebebeb" stroke-width="0.6" />
<line x1="491.00" y1="157.40" x2="685.00" y2="157.40" stroke="#ebebeb" stroke-width="0.9" />
<line x1="491.00" y1="141.40" x2="685.00" y2="141.40" stroke="#ebebeb" stroke-width="0.6" />
<line x1="491.00" y1="125.40" x2="685.00" y2="125.40" stroke="#ebebeb" stroke-width="0.9" />
<line x1="491.00" y1="109.40" x2="685.00" y2="109.40" stroke="#ebebeb" stroke-width="0.6" />
<line x1="491.00" y1="93.40" x2="685.00" y2="93.40" stroke="#ebebeb" stroke-width="0.9" />
<line x1="491.00" y1="77.40" x2="685.00" y2="77.40" stroke="#ebebeb" stroke-width="0.6" />
<line x1="491.00" y1="61.40" x2="685.00" y2="61.40" stroke="#ebebeb" stroke-width="0.9" />
<line x1="491.00" y1="45.40" x2="685.00" y2="45.40" stroke="#ebebeb" stroke-width="0.6" />
<line x1="491.00" y1="29.40" x2="685.00" y2="29.40" stroke="#ebebeb" stroke-width="0.9" />
<line x1="491.00" y1="13.40" x2="685.00" y2="13.40" stroke="#ebebeb" stroke-width="0.6" />
<text transform="translate(489.60,162.30) scale(1,1.12)" x="0" y="0" font-size="13.6" text-anchor="end" fill="#4d4d4d" font-weight="normal" >0</text>
<text transform="translate(489.60,130.30) scale(1,1.12)" x="0" y="0" font-size="13.6" text-anchor="end" fill="#4d4d4d" font-weight="normal" >1</text>
<text transform="translate(489.60,98.30) scale(1,1.12)" x="0" y="0" font-size="13.6" text-anchor="end" fill="#4d4d4d" font-weight="normal" >2</text>
<text transform="translate(489.60,66.30) scale(1,1.12)" x="0" y="0" font-size="13.6" text-anchor="end" fill="#4d4d4d" font-weight="normal" >3</text>
<text transform="translate(489.60,34.30) scale(1,1.12)" x="0" y="0" font-size="13.6" text-anchor="end" fill="#4d4d4d" font-weight="normal" >4</text>
<text transform="translate(541.40,168.60) scale(1,1.12)" x="0" y="0" font-size="13.6" text-anchor="middle" fill="#4d4d4d" font-weight="normal" >1</text>
<text transform="translate(597.80,168.60) scale(1,1.12)" x="0" y="0" font-size="13.6" text-anchor="middle" fill="#4d4d4d" font-weight="normal" >2</text>
<text transform="translate(654.20,168.60) scale(1,1.12)" x="0" y="0" font-size="13.6" text-anchor="middle" fill="#4d4d4d" font-weight="normal" >3</text>
<text transform="translate(478.2,84.9) rotate(-90)" x="0" y="0" font-size="14.1" text-anchor="middle" fill="#000">EMT score</text>
<text x="587.40" y="179.90" font-size="14.4" text-anchor="middle" fill="#000" font-weight="normal" >risk score</text>
<text x="511.00" y="32.10" font-size="13.8" text-anchor="start" fill="#000" font-weight="normal" >R = 0.70</text>
<text x="511.00" y="45.70" font-size="13.8" text-anchor="start" fill="#000" font-weight="normal" >p &lt; 2.2e-16</text>
<circle cx="508.50" cy="66.90" r="1.25" fill="#98bce3" stroke="none" stroke-width="0"/>
<circle cx="522.10" cy="64.60" r="1.25" fill="#98bce3" stroke="none" stroke-width="0"/>
<circle cx="553.80" cy="65.40" r="1.25" fill="#98bce3" stroke="none" stroke-width="0"/>
<circle cx="542.90" cy="72.90" r="1.25" fill="#98bce3" stroke="none" stroke-width="0"/>
<circle cx="543.30" cy="82.00" r="1.25" fill="#98bce3" stroke="none" stroke-width="0"/>
<circle cx="536.60" cy="87.50" r="1.25" fill="#98bce3" stroke="none" stroke-width="0"/>
<circle cx="549.00" cy="88.70" r="1.25" fill="#98bce3" stroke="none" stroke-width="0"/>
<circle cx="545.70" cy="91.80" r="1.25" fill="#98bce3" stroke="none" stroke-width="0"/>
<circle cx="554.80" cy="89.70" r="1.25" fill="#98bce3" stroke="none" stroke-width="0"/>
<circle cx="517.20" cy="93.30" r="1.25" fill="#98bce3" stroke="none" stroke-width="0"/>
<circle cx="531.80" cy="99.00" r="1.25" fill="#98bce3" stroke="none" stroke-width="0"/>
<circle cx="549.30" cy="99.00" r="1.25" fill="#98bce3" stroke="none" stroke-width="0"/>
<circle cx="553.00" cy="102.90" r="1.25" fill="#98bce3" stroke="none" stroke-width="0"/>
<circle cx="556.30" cy="102.90" r="1.25" fill="#98bce3" stroke="none" stroke-width="0"/>
<circle cx="513.00" cy="107.70" r="1.25" fill="#98bce3" stroke="none" stroke-width="0"/>
<circle cx="533.30" cy="107.90" r="1.25" fill="#98bce3" stroke="none" stroke-width="0"/>
<circle cx="543.80" cy="108.80" r="1.25" fill="#98bce3" stroke="none" stroke-width="0"/>
<circle cx="523.90" cy="110.80" r="1.25" fill="#98bce3" stroke="none" stroke-width="0"/>
<circle cx="516.90" cy="116.30" r="1.25" fill="#98bce3" stroke="none" stroke-width="0"/>
<circle cx="523.50" cy="116.30" r="1.25" fill="#98bce3" stroke="none" stroke-width="0"/>
<circle cx="531.80" cy="118.00" r="1.25" fill="#98bce3" stroke="none" stroke-width="0"/>
<circle cx="508.10" cy="119.30" r="1.25" fill="#98bce3" stroke="none" stroke-width="0"/>
<circle cx="516.00" cy="120.60" r="1.25" fill="#98bce3" stroke="none" stroke-width="0"/>
<circle cx="543.80" cy="117.10" r="1.25" fill="#98bce3" stroke="none" stroke-width="0"/>
<circle cx="550.70" cy="120.20" r="1.25" fill="#98bce3" stroke="none" stroke-width="0"/>
<circle cx="553.00" cy="122.80" r="1.25" fill="#98bce3" stroke="none" stroke-width="0"/>
<circle cx="557.60" cy="124.20" r="1.25" fill="#98bce3" stroke="none" stroke-width="0"/>
<circle cx="557.60" cy="126.30" r="1.25" fill="#98bce3" stroke="none" stroke-width="0"/>
<circle cx="519.60" cy="123.60" r="1.25" fill="#98bce3" stroke="none" stroke-width="0"/>
<circle cx="548.40" cy="124.60" r="1.25" fill="#98bce3" stroke="none" stroke-width="0"/>
<circle cx="515.00" cy="128.10" r="1.25" fill="#98bce3" stroke="none" stroke-width="0"/>
<circle cx="526.50" cy="128.10" r="1.25" fill="#98bce3" stroke="none" stroke-width="0"/>
<circle cx="502.50" cy="130.70" r="1.25" fill="#98bce3" stroke="none" stroke-width="0"/>
<circle cx="543.80" cy="129.40" r="1.25" fill="#98bce3" stroke="none" stroke-width="0"/>
<circle cx="543.20" cy="132.40" r="1.25" fill="#98bce3" stroke="none" stroke-width="0"/>
<circle cx="547.80" cy="132.80" r="1.25" fill="#98bce3" stroke="none" stroke-width="0"/>
<circle cx="511.00" cy="134.10" r="1.25" fill="#98bce3" stroke="none" stroke-width="0"/>
<circle cx="516.30" cy="132.40" r="1.25" fill="#98bce3" stroke="none" stroke-width="0"/>
<circle cx="520.20" cy="134.10" r="1.25" fill="#98bce3" stroke="none" stroke-width="0"/>
<circle cx="527.20" cy="134.40" r="1.25" fill="#98bce3" stroke="none" stroke-width="0"/>
<circle cx="533.30" cy="131.80" r="1.25" fill="#98bce3" stroke="none" stroke-width="0"/>
<circle cx="533.30" cy="135.70" r="1.25" fill="#98bce3" stroke="none" stroke-width="0"/>
<circle cx="511.00" cy="136.40" r="1.25" fill="#98bce3" stroke="none" stroke-width="0"/>
<circle cx="520.20" cy="137.30" r="1.25" fill="#98bce3" stroke="none" stroke-width="0"/>
<circle cx="524.80" cy="137.00" r="1.25" fill="#98bce3" stroke="none" stroke-width="0"/>
<circle cx="528.70" cy="136.80" r="1.25" fill="#98bce3" stroke="none" stroke-width="0"/>
<circle cx="538.30" cy="138.70" r="1.25" fill="#98bce3" stroke="none" stroke-width="0"/>
<circle cx="542.30" cy="140.30" r="1.25" fill="#98bce3" stroke="none" stroke-width="0"/>
<circle cx="546.70" cy="138.30" r="1.25" fill="#98bce3" stroke="none" stroke-width="0"/>
<circle cx="554.60" cy="138.10" r="1.25" fill="#98bce3" stroke="none" stroke-width="0"/>
<circle cx="557.60" cy="138.30" r="1.25" fill="#98bce3" stroke="none" stroke-width="0"/>
<circle cx="553.70" cy="142.90" r="1.25" fill="#98bce3" stroke="none" stroke-width="0"/>
<circle cx="507.10" cy="141.60" r="1.25" fill="#98bce3" stroke="none" stroke-width="0"/>
<circle cx="513.60" cy="141.00" r="1.25" fill="#98bce3" stroke="none" stroke-width="0"/>
<circle cx="517.60" cy="141.60" r="1.25" fill="#98bce3" stroke="none" stroke-width="0"/>
<circle cx="522.80" cy="140.30" r="1.25" fill="#98bce3" stroke="none" stroke-width="0"/>
<circle cx="527.40" cy="140.70" r="1.25" fill="#98bce3" stroke="none" stroke-width="0"/>
<circle cx="505.80" cy="144.60" r="1.25" fill="#98bce3" stroke="none" stroke-width="0"/>
<circle cx="511.70" cy="144.30" r="1.25" fill="#98bce3" stroke="none" stroke-width="0"/>
<circle cx="514.30" cy="143.90" r="1.25" fill="#98bce3" stroke="none" stroke-width="0"/>
<circle cx="518.20" cy="143.60" r="1.25" fill="#98bce3" stroke="none" stroke-width="0"/>
<circle cx="522.20" cy="144.90" r="1.25" fill="#98bce3" stroke="none" stroke-width="0"/>
<circle cx="526.10" cy="144.30" r="1.25" fill="#98bce3" stroke="none" stroke-width="0"/>
<circle cx="529.10" cy="144.30" r="1.25" fill="#98bce3" stroke="none" stroke-width="0"/>
<circle cx="499.90" cy="148.20" r="1.25" fill="#98bce3" stroke="none" stroke-width="0"/>
<circle cx="505.80" cy="148.80" r="1.25" fill="#98bce3" stroke="none" stroke-width="0"/>
<circle cx="508.40" cy="147.50" r="1.25" fill="#98bce3" stroke="none" stroke-width="0"/>
<circle cx="509.70" cy="149.50" r="1.25" fill="#98bce3" stroke="none" stroke-width="0"/>
<circle cx="514.30" cy="146.90" r="1.25" fill="#98bce3" stroke="none" stroke-width="0"/>
<circle cx="516.30" cy="148.80" r="1.25" fill="#98bce3" stroke="none" stroke-width="0"/>
<circle cx="519.60" cy="147.30" r="1.25" fill="#98bce3" stroke="none" stroke-width="0"/>
<circle cx="522.80" cy="145.60" r="1.25" fill="#98bce3" stroke="none" stroke-width="0"/>
<circle cx="530.10" cy="146.90" r="1.25" fill="#98bce3" stroke="none" stroke-width="0"/>
<circle cx="506.40" cy="151.70" r="1.25" fill="#98bce3" stroke="none" stroke-width="0"/>
<circle cx="514.30" cy="150.80" r="1.25" fill="#98bce3" stroke="none" stroke-width="0"/>
<circle cx="520.50" cy="150.80" r="1.25" fill="#98bce3" stroke="none" stroke-width="0"/>
<circle cx="526.10" cy="148.80" r="1.25" fill="#98bce3" stroke="none" stroke-width="0"/>
<circle cx="527.80" cy="150.80" r="1.25" fill="#98bce3" stroke="none" stroke-width="0"/>
<circle cx="603.20" cy="16.90" r="1.25" fill="#98bce3" stroke="none" stroke-width="0"/>
<circle cx="569.50" cy="55.70" r="1.25" fill="#98bce3" stroke="none" stroke-width="0"/>
<circle cx="580.10" cy="59.40" r="1.25" fill="#98bce3" stroke="none" stroke-width="0"/>
<circle cx="570.70" cy="63.70" r="1.25" fill="#98bce3" stroke="none" stroke-width="0"/>
<circle cx="570.10" cy="67.50" r="1.25" fill="#98bce3" stroke="none" stroke-width="0"/>
<circle cx="608.30" cy="68.10" r="1.25" fill="#98bce3" stroke="none" stroke-width="0"/>
<circle cx="621.40" cy="63.30" r="1.25" fill="#98bce3" stroke="none" stroke-width="0"/>
<circle cx="621.40" cy="67.90" r="1.25" fill="#98bce3" stroke="none" stroke-width="0"/>
<circle cx="631.70" cy="34.20" r="1.25" fill="#98bce3" stroke="none" stroke-width="0"/>
<circle cx="635.30" cy="49.70" r="1.25" fill="#98bce3" stroke="none" stroke-width="0"/>
<circle cx="635.00" cy="53.00" r="1.25" fill="#98bce3" stroke="none" stroke-width="0"/>
<circle cx="633.20" cy="56.40" r="1.25" fill="#98bce3" stroke="none" stroke-width="0"/>
<circle cx="626.50" cy="65.70" r="1.25" fill="#98bce3" stroke="none" stroke-width="0"/>
<circle cx="566.90" cy="74.90" r="1.25" fill="#98bce3" stroke="none" stroke-width="0"/>
<circle cx="576.80" cy="72.50" r="1.25" fill="#98bce3" stroke="none" stroke-width="0"/>
<circle cx="587.70" cy="73.30" r="1.25" fill="#98bce3" stroke="none" stroke-width="0"/>
<circle cx="568.90" cy="83.00" r="1.25" fill="#98bce3" stroke="none" stroke-width="0"/>
<circle cx="572.30" cy="82.80" r="1.25" fill="#98bce3" stroke="none" stroke-width="0"/>
<circle cx="564.10" cy="88.50" r="1.25" fill="#98bce3" stroke="none" stroke-width="0"/>
<circle cx="600.10" cy="76.70" r="1.25" fill="#98bce3" stroke="none" stroke-width="0"/>
<circle cx="613.70" cy="73.10" r="1.25" fill="#98bce3" stroke="none" stroke-width="0"/>
<circle cx="605.90" cy="81.60" r="1.25" fill="#98bce3" stroke="none" stroke-width="0"/>
<circle cx="592.80" cy="90.30" r="1.25" fill="#98bce3" stroke="none" stroke-width="0"/>
<circle cx="569.30" cy="96.60" r="1.25" fill="#98bce3" stroke="none" stroke-width="0"/>
<circle cx="583.50" cy="96.10" r="1.25" fill="#98bce3" stroke="none" stroke-width="0"/>
<circle cx="606.80" cy="96.10" r="1.25" fill="#98bce3" stroke="none" stroke-width="0"/>
<circle cx="597.40" cy="100.60" r="1.25" fill="#98bce3" stroke="none" stroke-width="0"/>
<circle cx="618.60" cy="103.40" r="1.25" fill="#98bce3" stroke="none" stroke-width="0"/>
<circle cx="602.00" cy="107.50" r="1.25" fill="#98bce3" stroke="none" stroke-width="0"/>
<circle cx="583.10" cy="109.00" r="1.25" fill="#98bce3" stroke="none" stroke-width="0"/>
<circle cx="604.40" cy="112.40" r="1.25" fill="#98bce3" stroke="none" stroke-width="0"/>
<circle cx="574.60" cy="113.30" r="1.25" fill="#98bce3" stroke="none" stroke-width="0"/>
<circle cx="579.00" cy="116.60" r="1.25" fill="#98bce3" stroke="none" stroke-width="0"/>
<circle cx="577.00" cy="121.70" r="1.25" fill="#98bce3" stroke="none" stroke-width="0"/>
<circle cx="578.10" cy="125.80" r="1.25" fill="#98bce3" stroke="none" stroke-width="0"/>
<circle cx="564.40" cy="125.00" r="1.25" fill="#98bce3" stroke="none" stroke-width="0"/>
<circle cx="565.60" cy="123.10" r="1.25" fill="#98bce3" stroke="none" stroke-width="0"/>
<circle cx="567.80" cy="122.80" r="1.25" fill="#98bce3" stroke="none" stroke-width="0"/>
<circle cx="565.20" cy="132.40" r="1.25" fill="#98bce3" stroke="none" stroke-width="0"/>
<circle cx="568.10" cy="132.00" r="1.25" fill="#98bce3" stroke="none" stroke-width="0"/>
<circle cx="566.70" cy="135.00" r="1.25" fill="#98bce3" stroke="none" stroke-width="0"/>
<circle cx="568.90" cy="136.40" r="1.25" fill="#98bce3" stroke="none" stroke-width="0"/>
<circle cx="555.60" cy="137.90" r="1.25" fill="#98bce3" stroke="none" stroke-width="0"/>
<circle cx="573.30" cy="143.90" r="1.25" fill="#98bce3" stroke="none" stroke-width="0"/>
<circle cx="638.80" cy="101.80" r="1.25" fill="#98bce3" stroke="none" stroke-width="0"/>
<circle cx="674.40" cy="94.60" r="1.25" fill="#98bce3" stroke="none" stroke-width="0"/>
<circle cx="676.10" cy="121.90" r="1.25" fill="#98bce3" stroke="none" stroke-width="0"/>
<circle cx="581.90" cy="96.30" r="1.25" fill="#98bce3" stroke="none" stroke-width="0"/>
<circle cx="514.72" cy="143.33" r="1.25" fill="#98bce3" stroke="none" stroke-width="0"/>
<circle cx="508.19" cy="146.65" r="1.25" fill="#98bce3" stroke="none" stroke-width="0"/>
<circle cx="525.04" cy="139.09" r="1.25" fill="#98bce3" stroke="none" stroke-width="0"/>
<circle cx="514.11" cy="147.48" r="1.25" fill="#98bce3" stroke="none" stroke-width="0"/>
<circle cx="518.62" cy="147.48" r="1.25" fill="#98bce3" stroke="none" stroke-width="0"/>
<circle cx="517.19" cy="143.99" r="1.25" fill="#98bce3" stroke="none" stroke-width="0"/>
<circle cx="520.78" cy="140.73" r="1.25" fill="#98bce3" stroke="none" stroke-width="0"/>
<circle cx="529.16" cy="138.22" r="1.25" fill="#98bce3" stroke="none" stroke-width="0"/>
<circle cx="514.26" cy="147.39" r="1.25" fill="#98bce3" stroke="none" stroke-width="0"/>
<circle cx="507.42" cy="150.30" r="1.25" fill="#98bce3" stroke="none" stroke-width="0"/>
<circle cx="527.65" cy="138.62" r="1.25" fill="#98bce3" stroke="none" stroke-width="0"/>
<circle cx="530.46" cy="138.87" r="1.25" fill="#98bce3" stroke="none" stroke-width="0"/>
<circle cx="525.46" cy="140.65" r="1.25" fill="#98bce3" stroke="none" stroke-width="0"/>
<circle cx="514.68" cy="143.90" r="1.25" fill="#98bce3" stroke="none" stroke-width="0"/>
<polygon points="499.9,139.0 504.3,137.0 508.7,134.9 513.1,132.9 517.5,130.8 521.9,128.7 526.3,126.6 530.7,124.4 535.1,122.2 539.5,120.0 543.9,117.7 548.3,115.4 552.7,113.0 557.1,110.6 561.5,108.1 565.9,105.5 570.3,102.9 574.7,100.3 579.1,97.7 583.5,95.0 587.8,92.3 592.2,89.6 596.6,86.9 601.0,84.2 605.4,81.4 609.8,78.7 614.2,76.0 618.6,73.2 623.0,70.5 627.4,67.7 631.8,65.0 636.2,62.2 640.6,59.4 645.0,56.7 649.4,53.9 653.8,51.1 658.2,48.4 662.6,45.6 667.0,42.8 671.4,40.1 675.8,37.3 675.8,60.9 671.4,62.9 667.0,64.9 662.6,66.9 658.2,68.9 653.8,70.9 649.4,72.9 645.0,74.9 640.6,76.9 636.2,78.9 631.8,80.9 627.4,82.9 623.0,84.9 618.6,86.9 614.2,88.9 609.8,91.0 605.4,93.0 601.0,95.0 596.6,97.1 592.2,99.1 587.8,101.2 583.5,103.3 579.1,105.4 574.7,107.5 570.3,109.6 565.9,111.8 561.5,114.0 557.1,116.3 552.7,118.6 548.3,121.0 543.9,123.4 539.5,125.9 535.1,128.5 530.7,131.0 526.3,133.6 521.9,136.3 517.5,138.9 513.1,141.6 508.7,144.3 504.3,147.0 499.9,149.8" fill="#999" fill-opacity="0.38"/>
<line x1="499.90" y1="144.40" x2="675.80" y2="49.10" stroke="#111" stroke-width="1.25" />
<rect x="181.8" y="210.8" width="124.80000000000001" height="241.0" fill="#fff"/>
<line x1="187.60" y1="210.80" x2="187.60" y2="451.80" stroke="#ebebeb" stroke-width="0.9" />
<line x1="201.78" y1="210.80" x2="201.78" y2="451.80" stroke="#f3f3f3" stroke-width="0.5" />
<line x1="215.96" y1="210.80" x2="215.96" y2="451.80" stroke="#ebebeb" stroke-width="0.9" />
<line x1="230.14" y1="210.80" x2="230.14" y2="451.80" stroke="#f3f3f3" stroke-width="0.5" />
<line x1="244.32" y1="210.80" x2="244.32" y2="451.80" stroke="#ebebeb" stroke-width="0.9" />
<line x1="258.50" y1="210.80" x2="258.50" y2="451.80" stroke="#f3f3f3" stroke-width="0.5" />
<line x1="272.68" y1="210.80" x2="272.68" y2="451.80" stroke="#ebebeb" stroke-width="0.9" />
<line x1="286.86" y1="210.80" x2="286.86" y2="451.80" stroke="#f3f3f3" stroke-width="0.5" />
<line x1="301.04" y1="210.80" x2="301.04" y2="451.80" stroke="#ebebeb" stroke-width="0.9" />
<line x1="181.80" y1="217.40" x2="306.60" y2="217.40" stroke="#ebebeb" stroke-width="0.9" />
<line x1="181.80" y1="229.36" x2="306.60" y2="229.36" stroke="#ebebeb" stroke-width="0.9" />
<line x1="181.80" y1="241.32" x2="306.60" y2="241.32" stroke="#ebebeb" stroke-width="0.9" />
<line x1="181.80" y1="253.28" x2="306.60" y2="253.28" stroke="#ebebeb" stroke-width="0.9" />
<line x1="181.80" y1="265.24" x2="306.60" y2="265.24" stroke="#ebebeb" stroke-width="0.9" />
<line x1="181.80" y1="277.20" x2="306.60" y2="277.20" stroke="#ebebeb" stroke-width="0.9" />
<line x1="181.80" y1="289.16" x2="306.60" y2="289.16" stroke="#ebebeb" stroke-width="0.9" />
<line x1="181.80" y1="301.12" x2="306.60" y2="301.12" stroke="#ebebeb" stroke-width="0.9" />
<line x1="181.80" y1="313.08" x2="306.60" y2="313.08" stroke="#ebebeb" stroke-width="0.9" />
<line x1="181.80" y1="325.04" x2="306.60" y2="325.04" stroke="#ebebeb" stroke-width="0.9" />
<line x1="181.80" y1="337.00" x2="306.60" y2="337.00" stroke="#ebebeb" stroke-width="0.9" />
<line x1="181.80" y1="348.96" x2="306.60" y2="348.96" stroke="#ebebeb" stroke-width="0.9" />
<line x1="181.80" y1="360.92" x2="306.60" y2="360.92" stroke="#ebebeb" stroke-width="0.9" />
<line x1="181.80" y1="372.88" x2="306.60" y2="372.88" stroke="#ebebeb" stroke-width="0.9" />
<line x1="181.80" y1="384.84" x2="306.60" y2="384.84" stroke="#ebebeb" stroke-width="0.9" />
<line x1="181.80" y1="396.80" x2="306.60" y2="396.80" stroke="#ebebeb" stroke-width="0.9" />
<line x1="181.80" y1="408.76" x2="306.60" y2="408.76" stroke="#ebebeb" stroke-width="0.9" />
<line x1="181.80" y1="420.72" x2="306.60" y2="420.72" stroke="#ebebeb" stroke-width="0.9" />
<line x1="181.80" y1="432.68" x2="306.60" y2="432.68" stroke="#ebebeb" stroke-width="0.9" />
<line x1="181.80" y1="444.64" x2="306.60" y2="444.64" stroke="#ebebeb" stroke-width="0.9" />
<circle cx="207.80" cy="217.40" r="2.00" fill="#4250b0" stroke="none" stroke-width="0"/>
<line x1="178.80" y1="217.40" x2="181.80" y2="217.40" stroke="#333" stroke-width="0.9" />
<text x="177.50" y="221.00" font-size="10.48" text-anchor="end" fill="#333" font-weight="normal" >Yersinia infection</text>
<circle cx="195.60" cy="229.36" r="2.50" fill="#4249b0" stroke="none" stroke-width="0"/>
<line x1="178.80" y1="229.36" x2="181.80" y2="229.36" stroke="#333" stroke-width="0.9" />
<text x="177.50" y="232.96" font-size="10.48" text-anchor="end" fill="#333" font-weight="normal" >Transcriptional misregulation in cancer</text>
<circle cx="255.80" cy="241.32" r="2.90" fill="#8e3fae" stroke="none" stroke-width="0"/>
<line x1="178.80" y1="241.32" x2="181.80" y2="241.32" stroke="#333" stroke-width="0.9" />
<text x="177.50" y="244.92" font-size="10.48" text-anchor="end" fill="#333" font-weight="normal" >TNF signaling pathway</text>
<circle cx="242.70" cy="253.28" r="2.20" fill="#5d4aae" stroke="none" stroke-width="0"/>
<line x1="178.80" y1="253.28" x2="181.80" y2="253.28" stroke="#333" stroke-width="0.9" />
<text x="177.50" y="256.88" font-size="10.48" text-anchor="end" fill="#333" font-weight="normal" >Rheumatoid arthritis</text>
<circle cx="252.40" cy="265.24" r="1.10" fill="#4555b0" stroke="none" stroke-width="0"/>
<line x1="178.80" y1="265.24" x2="181.80" y2="265.24" stroke="#333" stroke-width="0.9" />
<text x="177.50" y="268.84" font-size="10.48" text-anchor="end" fill="#333" font-weight="normal" >Renal cell carcinoma</text>
<circle cx="266.00" cy="277.20" r="4.20" fill="#ee2222" stroke="none" stroke-width="0"/>
<line x1="178.80" y1="277.20" x2="181.80" y2="277.20" stroke="#333" stroke-width="0.9" />
<text x="177.50" y="280.80" font-size="10.48" text-anchor="end" fill="#333" font-weight="normal" >Proteoglycans in cancer</text>
<circle cx="186.90" cy="289.16" r="4.30" fill="#b030a8" stroke="none" stroke-width="0"/>
<line x1="178.80" y1="289.16" x2="181.80" y2="289.16" stroke="#333" stroke-width="0.9" />
<text x="177.50" y="292.76" font-size="10.48" text-anchor="end" fill="#333" font-weight="normal" >Pathways in cancer</text>
<circle cx="206.10" cy="301.12" r="3.80" fill="#b232a6" stroke="none" stroke-width="0"/>
<line x1="178.80" y1="301.12" x2="181.80" y2="301.12" stroke="#333" stroke-width="0.9" />
<text x="177.50" y="304.72" font-size="10.48" text-anchor="end" fill="#333" font-weight="normal" >MicroRNAs in cancer</text>
<circle cx="300.70" cy="313.08" r="1.10" fill="#5a48b0" stroke="none" stroke-width="0"/>
<line x1="178.80" y1="313.08" x2="181.80" y2="313.08" stroke="#333" stroke-width="0.9" />
<text x="177.50" y="316.68" font-size="10.48" text-anchor="end" fill="#333" font-weight="normal" >Malaria</text>
<circle cx="190.20" cy="325.04" r="2.30" fill="#3f55b5" stroke="none" stroke-width="0"/>
<line x1="178.80" y1="325.04" x2="181.80" y2="325.04" stroke="#333" stroke-width="0.9" />
<text x="177.50" y="328.64" font-size="10.48" text-anchor="end" fill="#333" font-weight="normal" >Lipid and atherosclerosis</text>
<circle cx="242.70" cy="337.00" r="2.00" fill="#5b47b0" stroke="none" stroke-width="0"/>
<line x1="178.80" y1="337.00" x2="181.80" y2="337.00" stroke="#333" stroke-width="0.9" />
<text x="177.50" y="340.60" font-size="10.48" text-anchor="end" fill="#333" font-weight="normal" >IL−17 signaling pathway</text>
<circle cx="188.50" cy="348.96" r="3.20" fill="#6a44b0" stroke="none" stroke-width="0"/>
<line x1="178.80" y1="348.96" x2="181.80" y2="348.96" stroke="#333" stroke-width="0.9" />
<text x="177.50" y="352.56" font-size="10.48" text-anchor="end" fill="#333" font-weight="normal" >Human papillomavirus infection</text>
<circle cx="209.60" cy="360.92" r="2.50" fill="#5a48b0" stroke="none" stroke-width="0"/>
<line x1="178.80" y1="360.92" x2="181.80" y2="360.92" stroke="#333" stroke-width="0.9" />
<text x="177.50" y="364.52" font-size="10.48" text-anchor="end" fill="#333" font-weight="normal" >Hepatitis B</text>
<circle cx="235.70" cy="372.88" r="3.60" fill="#c8389a" stroke="none" stroke-width="0"/>
<line x1="178.80" y1="372.88" x2="181.80" y2="372.88" stroke="#333" stroke-width="0.9" />
<text x="177.50" y="376.48" font-size="10.48" text-anchor="end" fill="#333" font-weight="normal" >Focal adhesion</text>
<circle cx="236.40" cy="384.84" r="2.90" fill="#8a3fae" stroke="none" stroke-width="0"/>
<line x1="178.80" y1="384.84" x2="181.80" y2="384.84" stroke="#333" stroke-width="0.9" />
<text x="177.50" y="388.44" font-size="10.48" text-anchor="end" fill="#333" font-weight="normal" >Fluid shear stress and atherosclerosis</text>
<circle cx="193.70" cy="396.80" r="2.40" fill="#4850b5" stroke="none" stroke-width="0"/>
<line x1="178.80" y1="396.80" x2="181.80" y2="396.80" stroke="#333" stroke-width="0.9" />
<text x="177.50" y="400.40" font-size="10.48" text-anchor="end" fill="#333" font-weight="normal" >Epstein−Barr virus infection</text>
<circle cx="297.60" cy="408.76" r="3.00" fill="#c2399e" stroke="none" stroke-width="0"/>
<line x1="178.80" y1="408.76" x2="181.80" y2="408.76" stroke="#333" stroke-width="0.9" />
<text x="177.50" y="412.36" font-size="10.48" text-anchor="end" fill="#333" font-weight="normal" >ECM−receptor interaction</text>
<circle cx="195.50" cy="420.72" r="3.00" fill="#4e4db5" stroke="none" stroke-width="0"/>
<line x1="178.80" y1="420.72" x2="181.80" y2="420.72" stroke="#333" stroke-width="0.9" />
<text x="177.50" y="424.32" font-size="10.48" text-anchor="end" fill="#333" font-weight="normal" >Cytoskeleton in muscle cells</text>
<circle cx="234.10" cy="432.68" r="2.10" fill="#5548b0" stroke="none" stroke-width="0"/>
<line x1="178.80" y1="432.68" x2="181.80" y2="432.68" stroke="#333" stroke-width="0.9" />
<text x="177.50" y="436.28" font-size="10.48" text-anchor="end" fill="#333" font-weight="normal" >Chagas disease</text>
<circle cx="225.40" cy="444.64" r="3.00" fill="#7a42ae" stroke="none" stroke-width="0"/>
<line x1="178.80" y1="444.64" x2="181.80" y2="444.64" stroke="#333" stroke-width="0.9" />
<text x="177.50" y="448.24" font-size="10.48" text-anchor="end" fill="#333" font-weight="normal" >Cellular senescence</text>
<rect x="181.8" y="210.8" width="124.80000000000001" height="241.0" fill="none" stroke="#333" stroke-width="0.9"/>
<line x1="187.60" y1="451.80" x2="187.60" y2="454.60" stroke="#333" stroke-width="0.9" />
<text x="188.40" y="463.60" font-size="10.2" text-anchor="middle" fill="#333" font-weight="normal" >4</text>
<line x1="215.96" y1="451.80" x2="215.96" y2="454.60" stroke="#333" stroke-width="0.9" />
<text x="216.76" y="463.60" font-size="10.2" text-anchor="middle" fill="#333" font-weight="normal" >6</text>
<line x1="244.32" y1="451.80" x2="244.32" y2="454.60" stroke="#333" stroke-width="0.9" />
<text x="245.12" y="463.60" font-size="10.2" text-anchor="middle" fill="#333" font-weight="normal" >8</text>
<line x1="272.68" y1="451.80" x2="272.68" y2="454.60" stroke="#333" stroke-width="0.9" />
<text x="273.48" y="463.60" font-size="10.2" text-anchor="middle" fill="#333" font-weight="normal" >10</text>
<line x1="301.04" y1="451.80" x2="301.04" y2="454.60" stroke="#333" stroke-width="0.9" />
<text x="301.84" y="463.60" font-size="10.2" text-anchor="middle" fill="#333" font-weight="normal" >12</text>
<text x="247.70" y="473.00" font-size="11.6" text-anchor="middle" fill="#000" font-weight="normal" >Fold enrichment</text>
<text x="308.20" y="257.20" font-size="10.4" text-anchor="start" fill="#000" font-weight="normal" >-log10 (P. value)</text>
<defs><linearGradient id="cb" x1="0" y1="0" x2="0" y2="1"><stop offset="0" stop-color="#f01e1e"/><stop offset="0.4" stop-color="#c42e96"/><stop offset="0.62" stop-color="#a035aa"/><stop offset="1" stop-color="#3c50b4"/></linearGradient></defs>
<rect x="316.4" y="266.7" width="10.9" height="53.3" fill="url(#cb)"/>
<line x1="316.40" y1="270.40" x2="318.60" y2="270.40" stroke="#fff" stroke-width="0.8" />
<line x1="325.10" y1="270.40" x2="327.30" y2="270.40" stroke="#fff" stroke-width="0.8" />
<text x="330.30" y="274.10" font-size="10.4" text-anchor="start" fill="#000" font-weight="normal" >8</text>
<line x1="316.40" y1="286.40" x2="318.60" y2="286.40" stroke="#fff" stroke-width="0.8" />
<line x1="325.10" y1="286.40" x2="327.30" y2="286.40" stroke="#fff" stroke-width="0.8" />
<text x="330.30" y="290.10" font-size="10.4" text-anchor="start" fill="#000" font-weight="normal" >6</text>
<line x1="316.40" y1="303.60" x2="318.60" y2="303.60" stroke="#fff" stroke-width="0.8" />
<line x1="325.10" y1="303.60" x2="327.30" y2="303.60" stroke="#fff" stroke-width="0.8" />
<text x="330.30" y="307.30" font-size="10.4" text-anchor="start" fill="#000" font-weight="normal" >4</text>
<line x1="316.40" y1="317.60" x2="318.60" y2="317.60" stroke="#fff" stroke-width="0.8" />
<line x1="325.10" y1="317.60" x2="327.30" y2="317.60" stroke="#fff" stroke-width="0.8" />
<text x="330.30" y="321.30" font-size="10.4" text-anchor="start" fill="#000" font-weight="normal" >2</text>
<text x="311.80" y="339.60" font-size="10.4" text-anchor="start" fill="#000" font-weight="normal" >Gene number</text>
<circle cx="321.80" cy="348.70" r="1.10" fill="#000" stroke="none" stroke-width="0"/>
<text x="330.30" y="352.40" font-size="10.4" text-anchor="start" fill="#000" font-weight="normal" >4</text>
<circle cx="321.80" cy="359.60" r="2.60" fill="#000" stroke="none" stroke-width="0"/>
<text x="330.30" y="363.30" font-size="10.4" text-anchor="start" fill="#000" font-weight="normal" >6</text>
<circle cx="321.80" cy="370.50" r="3.00" fill="#000" stroke="none" stroke-width="0"/>
<text x="330.30" y="374.20" font-size="10.4" text-anchor="start" fill="#000" font-weight="normal" >8</text>
<circle cx="321.80" cy="380.90" r="3.50" fill="#000" stroke="none" stroke-width="0"/>
<text x="330.30" y="384.60" font-size="10.4" text-anchor="start" fill="#000" font-weight="normal" >10</text>
<circle cx="321.80" cy="391.80" r="4.00" fill="#000" stroke="none" stroke-width="0"/>
<text x="330.30" y="395.50" font-size="10.4" text-anchor="start" fill="#000" font-weight="normal" >12</text>
<circle cx="321.80" cy="402.20" r="4.40" fill="#000" stroke="none" stroke-width="0"/>
<text x="330.30" y="405.90" font-size="10.4" text-anchor="start" fill="#000" font-weight="normal" >14</text>
<g stroke="#a0a0a0" stroke-width="0.5">
<line x1="467.6" y1="231.7" x2="632.9" y2="370.5"/>
<line x1="467.6" y1="231.7" x2="462.2" y2="417.5"/>
<line x1="489.2" y1="222.2" x2="598.3" y2="273.6"/>
<line x1="489.2" y1="222.2" x2="634.9" y2="343.2"/>
<line x1="489.2" y1="222.2" x2="632.9" y2="370.5"/>
<line x1="489.2" y1="222.2" x2="624.0" y2="395.7"/>
<line x1="489.2" y1="222.2" x2="587.6" y2="435.6"/>
<line x1="489.2" y1="222.2" x2="440.7" y2="316.8"/>
<line x1="511.9" y1="216.3" x2="586.5" y2="374.8"/>
<line x1="511.9" y1="216.3" x2="535.1" y2="405.0"/>
<line x1="537.4" y1="213.4" x2="576.2" y2="259.4"/>
<line x1="537.4" y1="213.4" x2="617.4" y2="293.6"/>
<line x1="537.4" y1="213.4" x2="629.5" y2="317.2"/>
<line x1="537.4" y1="213.4" x2="535.6" y2="365.2"/>
<line x1="560.7" y1="215.4" x2="440.7" y2="316.8"/>
<line x1="560.7" y1="215.4" x2="586.7" y2="314.8"/>
<line x1="583.8" y1="221.6" x2="549.7" y2="252.2"/>
<line x1="583.8" y1="221.6" x2="586.5" y2="374.8"/>
<line x1="604.2" y1="231.4" x2="508.6" y2="446.7"/>
<line x1="604.2" y1="231.4" x2="453.4" y2="292.6"/>
<line x1="623.8" y1="245.1" x2="522.9" y2="252.2"/>
<line x1="623.8" y1="245.1" x2="617.4" y2="293.6"/>
<line x1="623.8" y1="245.1" x2="629.5" y2="317.2"/>
<line x1="623.8" y1="245.1" x2="608.8" y2="417.5"/>
<line x1="623.8" y1="245.1" x2="446.3" y2="396.0"/>
<line x1="623.8" y1="245.1" x2="535.6" y2="365.2"/>
<line x1="640.6" y1="261.7" x2="495.5" y2="258.6"/>
<line x1="640.6" y1="261.7" x2="453.4" y2="292.6"/>
<line x1="653.7" y1="281.1" x2="576.2" y2="259.4"/>
<line x1="653.7" y1="281.1" x2="617.4" y2="293.6"/>
<line x1="653.7" y1="281.1" x2="629.5" y2="317.2"/>
<line x1="653.7" y1="281.1" x2="446.3" y2="396.0"/>
<line x1="653.7" y1="281.1" x2="482.0" y2="314.8"/>
<line x1="663.8" y1="302.3" x2="598.3" y2="273.6"/>
<line x1="663.8" y1="302.3" x2="608.8" y2="417.5"/>
<line x1="663.8" y1="302.3" x2="437.0" y2="370.6"/>
<line x1="663.8" y1="302.3" x2="586.7" y2="314.8"/>
<line x1="663.8" y1="302.3" x2="482.0" y2="375.0"/>
<line x1="670.4" y1="325.3" x2="576.2" y2="259.4"/>
<line x1="670.4" y1="325.3" x2="535.0" y2="450.2"/>
<line x1="670.9" y1="349.3" x2="562.2" y2="446.6"/>
<line x1="670.9" y1="349.3" x2="483.6" y2="435.5"/>
<line x1="668.9" y1="372.9" x2="624.0" y2="395.7"/>
<line x1="668.9" y1="372.9" x2="446.3" y2="396.0"/>
<line x1="668.9" y1="372.9" x2="586.5" y2="374.8"/>
<line x1="662.8" y1="395.7" x2="508.6" y2="446.7"/>
<line x1="662.8" y1="395.7" x2="453.4" y2="292.6"/>
<line x1="653.0" y1="416.7" x2="495.5" y2="258.6"/>
<line x1="653.0" y1="416.7" x2="629.5" y2="317.2"/>
<line x1="653.0" y1="416.7" x2="535.0" y2="450.2"/>
<line x1="653.0" y1="416.7" x2="453.4" y2="292.6"/>
<line x1="653.0" y1="416.7" x2="535.1" y2="328.2"/>
<line x1="639.5" y1="437.7" x2="629.5" y2="317.2"/>
<line x1="639.5" y1="437.7" x2="632.9" y2="370.5"/>
<line x1="639.5" y1="437.7" x2="535.0" y2="450.2"/>
<line x1="639.5" y1="437.7" x2="586.7" y2="314.8"/>
<line x1="622.6" y1="454.6" x2="437.0" y2="370.6"/>
<line x1="622.6" y1="454.6" x2="482.0" y2="314.8"/>
<line x1="603.5" y1="467.3" x2="482.0" y2="314.8"/>
<line x1="603.5" y1="467.3" x2="535.1" y2="405.0"/>
<line x1="582.3" y1="477.3" x2="598.3" y2="273.6"/>
<line x1="582.3" y1="477.3" x2="617.4" y2="293.6"/>
<line x1="582.3" y1="477.3" x2="462.2" y2="417.5"/>
<line x1="582.3" y1="477.3" x2="446.3" y2="396.0"/>
<line x1="582.3" y1="477.3" x2="453.4" y2="292.6"/>
<line x1="582.3" y1="477.3" x2="482.0" y2="314.8"/>
<line x1="559.1" y1="482.1" x2="632.9" y2="370.5"/>
<line x1="559.1" y1="482.1" x2="472.1" y2="272.6"/>
<line x1="536.7" y1="484.1" x2="634.9" y2="343.2"/>
<line x1="536.7" y1="484.1" x2="608.8" y2="417.5"/>
<line x1="536.7" y1="484.1" x2="587.6" y2="435.6"/>
<line x1="536.7" y1="484.1" x2="586.5" y2="374.8"/>
<line x1="511.7" y1="482.2" x2="617.4" y2="293.6"/>
<line x1="511.7" y1="482.2" x2="534.5" y2="284.3"/>
<line x1="488.8" y1="475.9" x2="483.6" y2="435.5"/>
<line x1="488.8" y1="475.9" x2="446.3" y2="396.0"/>
<line x1="488.8" y1="475.9" x2="482.0" y2="375.0"/>
<line x1="467.3" y1="465.9" x2="495.5" y2="258.6"/>
<line x1="467.3" y1="465.9" x2="617.4" y2="293.6"/>
<line x1="467.3" y1="465.9" x2="632.9" y2="370.5"/>
<line x1="467.3" y1="465.9" x2="508.6" y2="446.7"/>
<line x1="467.3" y1="465.9" x2="453.4" y2="292.6"/>
<line x1="447.9" y1="451.9" x2="549.7" y2="252.2"/>
<line x1="447.9" y1="451.9" x2="483.6" y2="435.5"/>
<line x1="430.4" y1="435.7" x2="632.9" y2="370.5"/>
<line x1="430.4" y1="435.7" x2="624.0" y2="395.7"/>
<line x1="417.2" y1="416.2" x2="508.6" y2="446.7"/>
<line x1="417.2" y1="416.2" x2="586.5" y2="374.8"/>
<line x1="406.7" y1="394.6" x2="624.0" y2="395.7"/>
<line x1="406.7" y1="394.6" x2="586.5" y2="374.8"/>
<line x1="401.0" y1="372.0" x2="453.4" y2="292.6"/>
<line x1="401.0" y1="372.0" x2="482.0" y2="375.0"/>
<line x1="398.2" y1="348.5" x2="495.5" y2="258.6"/>
<line x1="398.2" y1="348.5" x2="435.0" y2="343.7"/>
<line x1="401.0" y1="324.7" x2="446.3" y2="396.0"/>
<line x1="401.0" y1="324.7" x2="534.5" y2="284.3"/>
<line x1="401.0" y1="324.7" x2="482.0" y2="375.0"/>
<line x1="406.7" y1="302.1" x2="598.3" y2="273.6"/>
<line x1="406.7" y1="302.1" x2="453.4" y2="292.6"/>
<line x1="417.2" y1="280.3" x2="608.8" y2="417.5"/>
<line x1="417.2" y1="280.3" x2="535.0" y2="450.2"/>
<line x1="417.2" y1="280.3" x2="446.3" y2="396.0"/>
<line x1="417.2" y1="280.3" x2="435.0" y2="343.7"/>
<line x1="417.2" y1="280.3" x2="534.5" y2="284.3"/>
<line x1="417.2" y1="280.3" x2="535.1" y2="328.2"/>
<line x1="429.6" y1="257.9" x2="617.4" y2="293.6"/>
<line x1="429.6" y1="257.9" x2="446.3" y2="396.0"/>
<line x1="447.6" y1="245.0" x2="587.6" y2="435.6"/>
<line x1="447.6" y1="245.0" x2="562.2" y2="446.6"/>
<line x1="495.5" y1="258.6" x2="522.9" y2="252.2"/>
<line x1="495.5" y1="258.6" x2="632.9" y2="370.5"/>
<line x1="495.5" y1="258.6" x2="562.2" y2="446.6"/>
<line x1="495.5" y1="258.6" x2="508.6" y2="446.7"/>
<line x1="495.5" y1="258.6" x2="462.2" y2="417.5"/>
<line x1="495.5" y1="258.6" x2="437.0" y2="370.6"/>
<line x1="495.5" y1="258.6" x2="534.5" y2="284.3"/>
<line x1="495.5" y1="258.6" x2="482.0" y2="314.8"/>
<line x1="495.5" y1="258.6" x2="586.7" y2="314.8"/>
<line x1="522.9" y1="252.2" x2="632.9" y2="370.5"/>
<line x1="522.9" y1="252.2" x2="462.2" y2="417.5"/>
<line x1="522.9" y1="252.2" x2="446.3" y2="396.0"/>
<line x1="522.9" y1="252.2" x2="437.0" y2="370.6"/>
<line x1="522.9" y1="252.2" x2="435.0" y2="343.7"/>
<line x1="522.9" y1="252.2" x2="472.1" y2="272.6"/>
<line x1="522.9" y1="252.2" x2="534.5" y2="284.3"/>
<line x1="522.9" y1="252.2" x2="535.6" y2="365.2"/>
<line x1="549.7" y1="252.2" x2="576.2" y2="259.4"/>
<line x1="549.7" y1="252.2" x2="598.3" y2="273.6"/>
<line x1="549.7" y1="252.2" x2="562.2" y2="446.6"/>
<line x1="549.7" y1="252.2" x2="462.2" y2="417.5"/>
<line x1="549.7" y1="252.2" x2="535.6" y2="365.2"/>
<line x1="549.7" y1="252.2" x2="482.0" y2="375.0"/>
<line x1="576.2" y1="259.4" x2="617.4" y2="293.6"/>
<line x1="576.2" y1="259.4" x2="472.1" y2="272.6"/>
<line x1="576.2" y1="259.4" x2="535.6" y2="365.2"/>
<line x1="576.2" y1="259.4" x2="586.5" y2="374.8"/>
<line x1="598.3" y1="273.6" x2="453.4" y2="292.6"/>
<line x1="598.3" y1="273.6" x2="534.5" y2="284.3"/>
<line x1="598.3" y1="273.6" x2="535.1" y2="328.2"/>
<line x1="598.3" y1="273.6" x2="586.5" y2="374.8"/>
<line x1="598.3" y1="273.6" x2="535.1" y2="405.0"/>
<line x1="617.4" y1="293.6" x2="446.3" y2="396.0"/>
<line x1="617.4" y1="293.6" x2="535.6" y2="365.2"/>
<line x1="617.4" y1="293.6" x2="535.1" y2="405.0"/>
<line x1="629.5" y1="317.2" x2="634.9" y2="343.2"/>
<line x1="629.5" y1="317.2" x2="535.0" y2="450.2"/>
<line x1="629.5" y1="317.2" x2="483.6" y2="435.5"/>
<line x1="629.5" y1="317.2" x2="482.0" y2="314.8"/>
<line x1="629.5" y1="317.2" x2="535.1" y2="328.2"/>
<line x1="634.9" y1="343.2" x2="624.0" y2="395.7"/>
<line x1="634.9" y1="343.2" x2="483.6" y2="435.5"/>
<line x1="634.9" y1="343.2" x2="453.4" y2="292.6"/>
<line x1="632.9" y1="370.5" x2="608.8" y2="417.5"/>
<line x1="632.9" y1="370.5" x2="508.6" y2="446.7"/>
<line x1="632.9" y1="370.5" x2="534.5" y2="284.3"/>
<line x1="632.9" y1="370.5" x2="586.5" y2="374.8"/>
<line x1="632.9" y1="370.5" x2="535.1" y2="405.0"/>
<line x1="624.0" y1="395.7" x2="587.6" y2="435.6"/>
<line x1="624.0" y1="395.7" x2="508.6" y2="446.7"/>
<line x1="624.0" y1="395.7" x2="453.4" y2="292.6"/>
<line x1="624.0" y1="395.7" x2="586.7" y2="314.8"/>
<line x1="624.0" y1="395.7" x2="535.1" y2="328.2"/>
<line x1="624.0" y1="395.7" x2="482.0" y2="375.0"/>
<line x1="608.8" y1="417.5" x2="483.6" y2="435.5"/>
<line x1="608.8" y1="417.5" x2="435.0" y2="343.7"/>
<line x1="608.8" y1="417.5" x2="482.0" y2="314.8"/>
<line x1="608.8" y1="417.5" x2="482.0" y2="375.0"/>
<line x1="608.8" y1="417.5" x2="535.1" y2="405.0"/>
<line x1="587.6" y1="435.6" x2="562.2" y2="446.6"/>
<line x1="587.6" y1="435.6" x2="440.7" y2="316.8"/>
<line x1="587.6" y1="435.6" x2="482.0" y2="314.8"/>
<line x1="587.6" y1="435.6" x2="535.1" y2="328.2"/>
<line x1="587.6" y1="435.6" x2="482.0" y2="375.0"/>
<line x1="562.2" y1="446.6" x2="535.0" y2="450.2"/>
<line x1="562.2" y1="446.6" x2="453.4" y2="292.6"/>
<line x1="562.2" y1="446.6" x2="534.5" y2="284.3"/>
<line x1="562.2" y1="446.6" x2="535.1" y2="328.2"/>
<line x1="562.2" y1="446.6" x2="586.5" y2="374.8"/>
<line x1="535.0" y1="450.2" x2="482.0" y2="314.8"/>
<line x1="535.0" y1="450.2" x2="586.5" y2="374.8"/>
<line x1="508.6" y1="446.7" x2="437.0" y2="370.6"/>
<line x1="508.6" y1="446.7" x2="435.0" y2="343.7"/>
<line x1="508.6" y1="446.7" x2="534.5" y2="284.3"/>
<line x1="508.6" y1="446.7" x2="482.0" y2="314.8"/>
<line x1="508.6" y1="446.7" x2="535.1" y2="328.2"/>
<line x1="483.6" y1="435.5" x2="586.7" y2="314.8"/>
<line x1="483.6" y1="435.5" x2="535.1" y2="328.2"/>
<line x1="483.6" y1="435.5" x2="535.6" y2="365.2"/>
<line x1="462.2" y1="417.5" x2="453.4" y2="292.6"/>
<line x1="462.2" y1="417.5" x2="534.5" y2="284.3"/>
<line x1="446.3" y1="396.0" x2="440.7" y2="316.8"/>
<line x1="446.3" y1="396.0" x2="586.5" y2="374.8"/>
<line x1="437.0" y1="370.6" x2="435.0" y2="343.7"/>
<line x1="437.0" y1="370.6" x2="440.7" y2="316.8"/>
<line x1="437.0" y1="370.6" x2="482.0" y2="314.8"/>
<line x1="437.0" y1="370.6" x2="535.1" y2="328.2"/>
<line x1="437.0" y1="370.6" x2="482.0" y2="375.0"/>
<line x1="437.0" y1="370.6" x2="535.1" y2="405.0"/>
<line x1="435.0" y1="343.7" x2="482.0" y2="314.8"/>
<line x1="435.0" y1="343.7" x2="535.1" y2="328.2"/>
<line x1="435.0" y1="343.7" x2="535.6" y2="365.2"/>
<line x1="440.7" y1="316.8" x2="535.1" y2="405.0"/>
<line x1="453.4" y1="292.6" x2="534.5" y2="284.3"/>
<line x1="453.4" y1="292.6" x2="482.0" y2="314.8"/>
<line x1="453.4" y1="292.6" x2="535.1" y2="328.2"/>
<line x1="453.4" y1="292.6" x2="535.6" y2="365.2"/>
<line x1="472.1" y1="272.6" x2="535.1" y2="328.2"/>
<line x1="534.5" y1="284.3" x2="482.0" y2="314.8"/>
<line x1="534.5" y1="284.3" x2="586.7" y2="314.8"/>
<line x1="534.5" y1="284.3" x2="535.6" y2="365.2"/>
<line x1="534.5" y1="284.3" x2="482.0" y2="375.0"/>
<line x1="534.5" y1="284.3" x2="586.5" y2="374.8"/>
<line x1="534.5" y1="284.3" x2="535.1" y2="405.0"/>
<line x1="482.0" y1="314.8" x2="535.6" y2="365.2"/>
<line x1="482.0" y1="314.8" x2="482.0" y2="375.0"/>
<line x1="482.0" y1="314.8" x2="535.1" y2="405.0"/>
<line x1="586.7" y1="314.8" x2="535.1" y2="328.2"/>
<line x1="586.7" y1="314.8" x2="535.6" y2="365.2"/>
<line x1="586.7" y1="314.8" x2="482.0" y2="375.0"/>
<line x1="586.7" y1="314.8" x2="586.5" y2="374.8"/>
<line x1="535.1" y1="328.2" x2="535.6" y2="365.2"/>
<line x1="535.1" y1="328.2" x2="482.0" y2="375.0"/>
<line x1="535.1" y1="328.2" x2="586.5" y2="374.8"/>
<line x1="535.1" y1="328.2" x2="535.1" y2="405.0"/>
<line x1="535.6" y1="365.2" x2="482.0" y2="375.0"/>
<line x1="535.6" y1="365.2" x2="586.5" y2="374.8"/>
<line x1="535.6" y1="365.2" x2="535.1" y2="405.0"/>
<line x1="482.0" y1="375.0" x2="586.5" y2="374.8"/>
<line x1="482.0" y1="375.0" x2="535.1" y2="405.0"/>
</g>
<circle cx="467.60" cy="231.70" r="10.20" fill="#ccd9ea" stroke="#d8e3aa" stroke-width="0.8"/>
<circle cx="489.20" cy="222.20" r="10.20" fill="#e3e2ee" stroke="#d8e3aa" stroke-width="0.8"/>
<circle cx="511.90" cy="216.30" r="10.20" fill="#d4dcea" stroke="#d8e3aa" stroke-width="0.8"/>
<circle cx="537.40" cy="213.40" r="10.20" fill="#cfdaea" stroke="#d8e3aa" stroke-width="0.8"/>
<circle cx="560.70" cy="215.40" r="10.20" fill="#e3e2ee" stroke="#d8e3aa" stroke-width="0.8"/>
<circle cx="583.80" cy="221.60" r="10.20" fill="#d0dbea" stroke="#d8e3aa" stroke-width="0.8"/>
<circle cx="604.20" cy="231.40" r="10.20" fill="#e3e2ee" stroke="#d8e3aa" stroke-width="0.8"/>
<circle cx="623.80" cy="245.10" r="10.20" fill="#e3e2ee" stroke="#d8e3aa" stroke-width="0.8"/>
<circle cx="640.60" cy="261.70" r="10.20" fill="#e3e2ee" stroke="#d8e3aa" stroke-width="0.8"/>
<circle cx="653.70" cy="281.10" r="10.20" fill="#d4dcea" stroke="#d8e3aa" stroke-width="0.8"/>
<circle cx="663.80" cy="302.30" r="10.20" fill="#dfe0ee" stroke="#d8e3aa" stroke-width="0.8"/>
<circle cx="670.40" cy="325.30" r="10.20" fill="#e3e2ee" stroke="#d8e3aa" stroke-width="0.8"/>
<circle cx="670.90" cy="349.30" r="10.20" fill="#e3e2ee" stroke="#d8e3aa" stroke-width="0.8"/>
<circle cx="668.90" cy="372.90" r="10.20" fill="#e3e2ee" stroke="#d8e3aa" stroke-width="0.8"/>
<circle cx="662.80" cy="395.70" r="10.20" fill="#e3e2ee" stroke="#d8e3aa" stroke-width="0.8"/>
<circle cx="653.00" cy="416.70" r="10.20" fill="#e3e2ee" stroke="#d8e3aa" stroke-width="0.8"/>
<circle cx="639.50" cy="437.70" r="10.20" fill="#d0dbea" stroke="#d8e3aa" stroke-width="0.8"/>
<circle cx="622.60" cy="454.60" r="10.20" fill="#e3e2ee" stroke="#d8e3aa" stroke-width="0.8"/>
<circle cx="603.50" cy="467.30" r="10.20" fill="#d0dbea" stroke="#d8e3aa" stroke-width="0.8"/>
<circle cx="582.30" cy="477.30" r="10.20" fill="#d0dbea" stroke="#d8e3aa" stroke-width="0.8"/>
<circle cx="559.10" cy="482.10" r="10.20" fill="#dde1ee" stroke="#d8e3aa" stroke-width="0.8"/>
<circle cx="536.70" cy="484.10" r="10.20" fill="#dde1ee" stroke="#d8e3aa" stroke-width="0.8"/>
<circle cx="511.70" cy="482.20" r="10.20" fill="#e3e2ee" stroke="#d8e3aa" stroke-width="0.8"/>
<circle cx="488.80" cy="475.90" r="10.20" fill="#d0dbea" stroke="#d8e3aa" stroke-width="0.8"/>
<circle cx="467.30" cy="465.90" r="10.20" fill="#d0dbea" stroke="#d8e3aa" stroke-width="0.8"/>
<circle cx="447.90" cy="451.90" r="10.20" fill="#d0dbea" stroke="#d8e3aa" stroke-width="0.8"/>
<circle cx="430.40" cy="435.70" r="10.20" fill="#d0dbea" stroke="#d8e3aa" stroke-width="0.8"/>
<circle cx="417.20" cy="416.20" r="10.20" fill="#e3e2ee" stroke="#d8e3aa" stroke-width="0.8"/>
<circle cx="406.70" cy="394.60" r="10.20" fill="#d5dcec" stroke="#d8e3aa" stroke-width="0.8"/>
<circle cx="401.00" cy="372.00" r="10.20" fill="#d8dfec" stroke="#d8e3aa" stroke-width="0.8"/>
<circle cx="398.20" cy="348.50" r="10.20" fill="#e3e2ee" stroke="#d8e3aa" stroke-width="0.8"/>
<circle cx="401.00" cy="324.70" r="10.20" fill="#e3e2ee" stroke="#d8e3aa" stroke-width="0.8"/>
<circle cx="406.70" cy="302.10" r="10.20" fill="#e3e2ee" stroke="#d8e3aa" stroke-width="0.8"/>
<circle cx="417.20" cy="280.30" r="10.20" fill="#e3e2ee" stroke="#d8e3aa" stroke-width="0.8"/>
<circle cx="429.60" cy="257.90" r="10.20" fill="#e3e2ee" stroke="#d8e3aa" stroke-width="0.8"/>
<circle cx="447.60" cy="245.00" r="10.20" fill="#e3e2ee" stroke="#d8e3aa" stroke-width="0.8"/>
<circle cx="495.50" cy="258.60" r="11.30" fill="#9ec0da" stroke="#d8e3aa" stroke-width="0.8"/>
<circle cx="522.90" cy="252.20" r="11.30" fill="#a2c2db" stroke="#d8e3aa" stroke-width="0.8"/>
<circle cx="549.70" cy="252.20" r="10.80" fill="#cbd9ea" stroke="#d8e3aa" stroke-width="0.8"/>
<circle cx="576.20" cy="259.40" r="11.00" fill="#acc8df" stroke="#d8e3aa" stroke-width="0.8"/>
<circle cx="598.30" cy="273.60" r="10.60" fill="#c2d4e8" stroke="#d8e3aa" stroke-width="0.8"/>
<circle cx="617.40" cy="293.60" r="10.60" fill="#c8d6e9" stroke="#d8e3aa" stroke-width="0.8"/>
<circle cx="629.50" cy="317.20" r="11.00" fill="#a9c6de" stroke="#d8e3aa" stroke-width="0.8"/>
<circle cx="634.90" cy="343.20" r="11.20" fill="#a9c6de" stroke="#d8e3aa" stroke-width="0.8"/>
<circle cx="632.90" cy="370.50" r="10.80" fill="#c2d4e8" stroke="#d8e3aa" stroke-width="0.8"/>
<circle cx="624.00" cy="395.70" r="11.00" fill="#afc9df" stroke="#d8e3aa" stroke-width="0.8"/>
<circle cx="608.80" cy="417.50" r="10.60" fill="#c2d4e8" stroke="#d8e3aa" stroke-width="0.8"/>
<circle cx="587.60" cy="435.60" r="11.00" fill="#c2d4e8" stroke="#d8e3aa" stroke-width="0.8"/>
<circle cx="562.20" cy="446.60" r="11.50" fill="#9ec0da" stroke="#d8e3aa" stroke-width="0.8"/>
<circle cx="535.00" cy="450.20" r="11.00" fill="#c2d4e8" stroke="#d8e3aa" stroke-width="0.8"/>
<circle cx="508.60" cy="446.70" r="11.50" fill="#9ec0da" stroke="#d8e3aa" stroke-width="0.8"/>
<circle cx="483.60" cy="435.50" r="11.30" fill="#a9c6de" stroke="#d8e3aa" stroke-width="0.8"/>
<circle cx="462.20" cy="417.50" r="10.80" fill="#c2d4e8" stroke="#d8e3aa" stroke-width="0.8"/>
<circle cx="446.30" cy="396.00" r="10.60" fill="#c2d4e8" stroke="#d8e3aa" stroke-width="0.8"/>
<circle cx="437.00" cy="370.60" r="10.60" fill="#c2d4e8" stroke="#d8e3aa" stroke-width="0.8"/>
<circle cx="435.00" cy="343.70" r="11.00" fill="#a9c6de" stroke="#d8e3aa" stroke-width="0.8"/>
<circle cx="440.70" cy="316.80" r="10.60" fill="#c2d4e8" stroke="#d8e3aa" stroke-width="0.8"/>
<circle cx="453.40" cy="292.60" r="10.60" fill="#c2d4e8" stroke="#d8e3aa" stroke-width="0.8"/>
<circle cx="472.10" cy="272.60" r="10.60" fill="#c0d2e6" stroke="#d8e3aa" stroke-width="0.8"/>
<circle cx="534.50" cy="284.30" r="12.70" fill="#79a7ca" stroke="#d8e3aa" stroke-width="0.8"/>
<circle cx="482.00" cy="314.80" r="12.50" fill="#7aaacd" stroke="#d8e3aa" stroke-width="0.8"/>
<circle cx="586.70" cy="314.80" r="12.00" fill="#8fb4d3" stroke="#d8e3aa" stroke-width="0.8"/>
<circle cx="535.10" cy="328.20" r="13.60" fill="#5c91bf" stroke="#d8e3aa" stroke-width="0.8"/>
<circle cx="535.60" cy="365.20" r="14.50" fill="#3b6b98" stroke="#45357a" stroke-width="1.0"/>
<circle cx="482.00" cy="375.00" r="11.60" fill="#9ec0da" stroke="#d8e3aa" stroke-width="0.8"/>
<circle cx="586.50" cy="374.80" r="12.30" fill="#86b0d0" stroke="#d8e3aa" stroke-width="0.8"/>
<circle cx="535.10" cy="405.00" r="12.00" fill="#8ab0d0" stroke="#d8e3aa" stroke-width="0.8"/>
<text x="467.60" y="233.68" font-size="5.5" text-anchor="middle" fill="#111" font-weight="normal" stroke="#111" stroke-width="0.1">TYMS</text>
<text x="489.20" y="224.18" font-size="5.5" text-anchor="middle" fill="#111" font-weight="normal" stroke="#111" stroke-width="0.1">SCIN</text>
<text x="511.90" y="218.28" font-size="5.5" text-anchor="middle" fill="#111" font-weight="normal" stroke="#111" stroke-width="0.1">ACTA2</text>
<text x="537.40" y="215.38" font-size="5.5" text-anchor="middle" fill="#111" font-weight="normal" stroke="#111" stroke-width="0.1">TNC</text>
<text x="560.70" y="217.38" font-size="5.5" text-anchor="middle" fill="#111" font-weight="normal" stroke="#111" stroke-width="0.1">CTHRC1</text>
<text x="583.80" y="223.58" font-size="5.5" text-anchor="middle" fill="#111" font-weight="normal" stroke="#111" stroke-width="0.1">S100A8</text>
<text x="604.20" y="233.38" font-size="5.5" text-anchor="middle" fill="#111" font-weight="normal" stroke="#111" stroke-width="0.1">ADAM12</text>
<text x="623.80" y="247.08" font-size="5.5" text-anchor="middle" fill="#111" font-weight="normal" stroke="#111" stroke-width="0.1">NRP1</text>
<text x="640.60" y="263.68" font-size="5.5" text-anchor="middle" fill="#111" font-weight="normal" stroke="#111" stroke-width="0.1">CD14</text>
<text x="653.70" y="283.08" font-size="5.5" text-anchor="middle" fill="#111" font-weight="normal" stroke="#111" stroke-width="0.1">S100A6</text>
<text x="663.80" y="304.28" font-size="5.5" text-anchor="middle" fill="#111" font-weight="normal" stroke="#111" stroke-width="0.1">IGFBP3</text>
<text x="670.40" y="327.28" font-size="5.5" text-anchor="middle" fill="#111" font-weight="normal" stroke="#111" stroke-width="0.1">HAS2</text>
<text x="670.90" y="351.28" font-size="5.5" text-anchor="middle" fill="#111" font-weight="normal" stroke="#111" stroke-width="0.1">SERPINF1</text>
<text x="668.90" y="374.88" font-size="5.5" text-anchor="middle" fill="#111" font-weight="normal" stroke="#111" stroke-width="0.1">CTCFL</text>
<text x="662.80" y="397.68" font-size="5.5" text-anchor="middle" fill="#111" font-weight="normal" stroke="#111" stroke-width="0.1">SOCS3</text>
<text x="653.00" y="418.68" font-size="5.5" text-anchor="middle" fill="#111" font-weight="normal" stroke="#111" stroke-width="0.1">ACTG2</text>
<text x="639.50" y="439.68" font-size="5.5" text-anchor="middle" fill="#111" font-weight="normal" stroke="#111" stroke-width="0.1">S100A4</text>
<text x="622.60" y="456.58" font-size="5.5" text-anchor="middle" fill="#111" font-weight="normal" stroke="#111" stroke-width="0.1">JUNB</text>
<text x="603.50" y="469.28" font-size="5.5" text-anchor="middle" fill="#111" font-weight="normal" stroke="#111" stroke-width="0.1">LOXL2</text>
<text x="582.30" y="479.28" font-size="5.5" text-anchor="middle" fill="#111" font-weight="normal" stroke="#111" stroke-width="0.1">MCAM</text>
<text x="559.10" y="484.08" font-size="5.5" text-anchor="middle" fill="#111" font-weight="normal" stroke="#111" stroke-width="0.1">FBLN5</text>
<text x="536.70" y="486.08" font-size="5.5" text-anchor="middle" fill="#111" font-weight="normal" stroke="#111" stroke-width="0.1">CKS2</text>
<text x="511.70" y="484.18" font-size="5.5" text-anchor="middle" fill="#111" font-weight="normal" stroke="#111" stroke-width="0.1">IGFBP7</text>
<text x="488.80" y="477.88" font-size="5.5" text-anchor="middle" fill="#111" font-weight="normal" stroke="#111" stroke-width="0.1">COL18A1</text>
<text x="467.30" y="467.88" font-size="5.5" text-anchor="middle" fill="#111" font-weight="normal" stroke="#111" stroke-width="0.1">TACC3</text>
<text x="447.90" y="453.88" font-size="5.5" text-anchor="middle" fill="#111" font-weight="normal" stroke="#111" stroke-width="0.1">ANXA1</text>
<text x="430.40" y="437.68" font-size="5.5" text-anchor="middle" fill="#111" font-weight="normal" stroke="#111" stroke-width="0.1">MSN</text>
<text x="417.20" y="418.18" font-size="5.5" text-anchor="middle" fill="#111" font-weight="normal" stroke="#111" stroke-width="0.1">PDPN</text>
<text x="406.70" y="396.58" font-size="5.5" text-anchor="middle" fill="#111" font-weight="normal" stroke="#111" stroke-width="0.1">RHOC</text>
<text x="401.00" y="373.98" font-size="5.5" text-anchor="middle" fill="#111" font-weight="normal" stroke="#111" stroke-width="0.1">RUNX1</text>
<text x="398.20" y="350.48" font-size="5.5" text-anchor="middle" fill="#111" font-weight="normal" stroke="#111" stroke-width="0.1">ANGPTL4</text>
<text x="401.00" y="326.68" font-size="5.5" text-anchor="middle" fill="#111" font-weight="normal" stroke="#111" stroke-width="0.1">SOD2</text>
<text x="406.70" y="304.08" font-size="5.5" text-anchor="middle" fill="#111" font-weight="normal" stroke="#111" stroke-width="0.1">S100A9</text>
<text x="417.20" y="282.28" font-size="5.5" text-anchor="middle" fill="#111" font-weight="normal" stroke="#111" stroke-width="0.1">ISG15</text>
<text x="429.60" y="259.88" font-size="5.5" text-anchor="middle" fill="#111" font-weight="normal" stroke="#111" stroke-width="0.1">HMOX1</text>
<text x="447.60" y="246.98" font-size="5.5" text-anchor="middle" fill="#111" font-weight="normal" stroke="#111" stroke-width="0.1">MRC2</text>
<text x="495.50" y="260.98" font-size="6.6" text-anchor="middle" fill="#111" font-weight="normal" stroke="#111" stroke-width="0.1">CCNA2</text>
<text x="522.90" y="254.58" font-size="6.6" text-anchor="middle" fill="#111" font-weight="normal" stroke="#111" stroke-width="0.1">SERPINE1</text>
<text x="549.70" y="254.29" font-size="5.8" text-anchor="middle" fill="#111" font-weight="normal" stroke="#111" stroke-width="0.1">POSTN</text>
<text x="576.20" y="261.60" font-size="6.1" text-anchor="middle" fill="#111" font-weight="normal" stroke="#111" stroke-width="0.1">SDC1</text>
<text x="598.30" y="275.69" font-size="5.8" text-anchor="middle" fill="#111" font-weight="normal" stroke="#111" stroke-width="0.1">MYBL2</text>
<text x="617.40" y="295.69" font-size="5.8" text-anchor="middle" fill="#111" font-weight="normal" stroke="#111" stroke-width="0.1">ENG</text>
<text x="629.50" y="319.40" font-size="6.1" text-anchor="middle" fill="#111" font-weight="normal" stroke="#111" stroke-width="0.1">ITGA5</text>
<text x="634.90" y="345.58" font-size="6.6" text-anchor="middle" fill="#111" font-weight="normal" stroke="#111" stroke-width="0.1">SPP1</text>
<text x="632.90" y="372.59" font-size="5.8" text-anchor="middle" fill="#111" font-weight="normal" stroke="#111" stroke-width="0.1">ECT2</text>
<text x="624.00" y="397.90" font-size="6.1" text-anchor="middle" fill="#111" font-weight="normal" stroke="#111" stroke-width="0.1">FLNA</text>
<text x="608.80" y="419.59" font-size="5.8" text-anchor="middle" fill="#111" font-weight="normal" stroke="#111" stroke-width="0.1">VIM</text>
<text x="587.60" y="437.80" font-size="6.1" text-anchor="middle" fill="#111" font-weight="normal" stroke="#111" stroke-width="0.1">E2F1</text>
<text x="562.20" y="448.98" font-size="6.6" text-anchor="middle" fill="#111" font-weight="normal" stroke="#111" stroke-width="0.1">ANXA2</text>
<text x="535.00" y="452.40" font-size="6.1" text-anchor="middle" fill="#111" font-weight="normal" stroke="#111" stroke-width="0.1">TGFB2</text>
<text x="508.60" y="449.08" font-size="6.6" text-anchor="middle" fill="#111" font-weight="normal" stroke="#111" stroke-width="0.1">HGF</text>
<text x="483.60" y="437.88" font-size="6.6" text-anchor="middle" fill="#111" font-weight="normal" stroke="#111" stroke-width="0.1">CCL5</text>
<text x="462.20" y="419.59" font-size="5.8" text-anchor="middle" fill="#111" font-weight="normal" stroke="#111" stroke-width="0.1">MMP14</text>
<text x="446.30" y="398.09" font-size="5.8" text-anchor="middle" fill="#111" font-weight="normal" stroke="#111" stroke-width="0.1">FOXM1</text>
<text x="437.00" y="372.69" font-size="5.8" text-anchor="middle" fill="#111" font-weight="normal" stroke="#111" stroke-width="0.1">LOX</text>
<text x="435.00" y="345.90" font-size="6.1" text-anchor="middle" fill="#111" font-weight="normal" stroke="#111" stroke-width="0.1">BIRC5</text>
<text x="440.70" y="318.89" font-size="5.8" text-anchor="middle" fill="#111" font-weight="normal" stroke="#111" stroke-width="0.1">CAV1</text>
<text x="453.40" y="294.69" font-size="5.8" text-anchor="middle" fill="#111" font-weight="normal" stroke="#111" stroke-width="0.1">EZH2</text>
<text x="472.10" y="274.69" font-size="5.8" text-anchor="middle" fill="#111" font-weight="normal" stroke="#111" stroke-width="0.1">PLAUR</text>
<text x="534.50" y="287.22" font-size="8.1" text-anchor="middle" fill="#111" font-weight="normal" >MMP9</text>
<text x="482.00" y="317.72" font-size="8.1" text-anchor="middle" fill="#111" font-weight="normal" >ITGB1</text>
<text x="586.70" y="317.18" font-size="6.6" text-anchor="middle" fill="#111" font-weight="normal" >AURKA</text>
<text x="535.10" y="330.97" font-size="7.7" text-anchor="middle" fill="#111" font-weight="normal" >CD44</text>
<text x="535.60" y="368.22" font-size="8.4" text-anchor="middle" fill="#111" font-weight="normal" >FN1</text>
<text x="482.00" y="377.45" font-size="6.8" text-anchor="middle" fill="#111" font-weight="normal" >JUN</text>
<text x="586.50" y="377.57" font-size="7.7" text-anchor="middle" fill="#111" font-weight="normal" >TIMP1</text>
<text x="535.10" y="407.48" font-size="6.9" text-anchor="middle" fill="#111" font-weight="normal" >CCL2</text>
</svg></body></html>
